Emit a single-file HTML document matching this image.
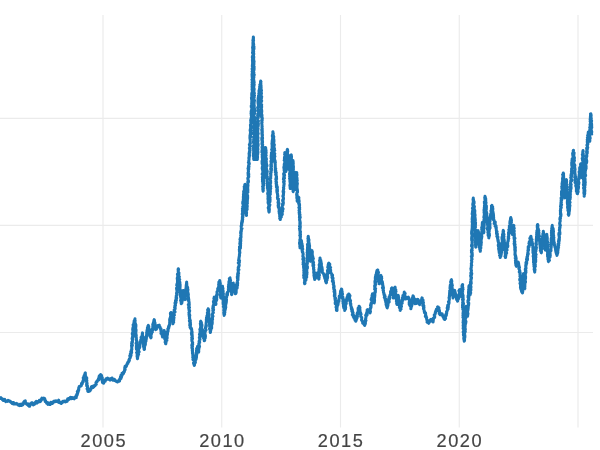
<!DOCTYPE html>
<html><head><meta charset="utf-8"><style>
html,body{margin:0;padding:0;background:#fff;}
body{width:600px;height:450px;overflow:hidden;font-family:"Liberation Sans",sans-serif;}
svg{display:block}
text{font-family:"Liberation Sans",sans-serif;font-size:18.2px;fill:#444;stroke:#444;stroke-width:0.2px;}
</style></head><body>
<svg width="600" height="450" viewBox="0 0 600 450">
<rect width="600" height="450" fill="#fff"/>
<g stroke="#ebebeb" stroke-width="1.15" fill="none">
<line x1="103" y1="15" x2="103" y2="427.5"/>
<line x1="221.75" y1="15" x2="221.75" y2="427.5"/>
<line x1="340.5" y1="15" x2="340.5" y2="427.5"/>
<line x1="459.25" y1="15" x2="459.25" y2="427.5"/>
<line x1="578" y1="15" x2="578" y2="427.5"/>
<line x1="0" y1="118.4" x2="593" y2="118.4"/>
<line x1="0" y1="225.4" x2="593" y2="225.4"/>
<line x1="0" y1="332.5" x2="593" y2="332.5"/>
</g>
<polyline fill="none" stroke="#1f77b4" stroke-width="3.0" stroke-linejoin="round" stroke-linecap="butt" points="-2.0,398.5 -1.7,397.7 -0.8,397.5 -0.5,398.1 0.0,398.3 0.0,398.4 0.5,398.4 1.0,397.7 2.0,398.7 2.4,399.6 2.4,398.7 3.4,400.5 3.8,399.7 4.7,399.3 4.9,400.1 5.0,400.8 5.1,400.1 5.8,401.7 6.1,401.3 7.2,400.9 7.5,401.3 8.1,400.3 8.1,400.4 9.2,400.9 9.8,401.0 9.8,401.6 10.4,401.3 11.2,402.4 11.0,402.4 11.7,402.5 12.1,403.5 12.8,402.5 13.5,402.4 13.3,403.9 13.4,403.6 14.2,403.8 14.2,404.1 15.5,403.9 16.1,403.4 16.4,403.9 16.7,403.7 17.3,403.8 18.0,405.0 18.1,404.6 18.1,404.9 19.2,405.6 19.9,404.4 20.0,405.0 20.4,405.3 20.5,404.9 21.1,404.2 21.5,405.5 22.5,404.9 22.4,404.0 22.9,404.7 22.8,403.4 23.6,403.8 24.1,403.3 23.8,401.9 24.1,402.3 24.5,401.2 25.3,400.9 24.7,401.5 25.1,402.4 25.8,402.4 25.5,403.1 26.3,403.7 26.6,404.1 27.6,404.7 27.5,404.8 28.0,403.9 28.6,405.7 29.0,406.0 28.8,405.5 29.0,406.2 29.7,406.3 29.5,405.1 29.9,404.8 30.3,404.1 30.2,403.9 30.5,403.9 30.7,404.5 31.6,402.7 31.7,402.9 31.8,402.9 32.4,402.8 33.3,404.9 33.3,404.2 33.8,404.6 33.7,403.4 34.3,403.4 35.2,402.9 34.6,404.1 35.5,402.1 35.8,402.5 36.3,401.4 36.8,403.2 37.7,402.4 37.5,401.6 38.3,401.7 38.4,402.0 39.2,401.7 39.4,400.3 40.3,401.6 40.8,400.9 40.8,400.0 41.5,400.2 41.3,399.4 41.9,398.1 41.9,398.3 42.6,398.9 43.7,398.1 43.7,397.9 44.3,399.1 44.7,398.5 44.1,398.6 44.3,399.0 45.0,400.8 45.5,400.4 45.5,401.5 45.2,401.5 45.8,401.7 46.5,402.5 46.8,402.2 46.6,403.2 47.1,403.5 48.2,402.9 48.0,404.4 48.7,403.0 48.5,403.4 49.2,404.3 50.0,404.6 49.6,404.5 51.0,403.9 50.7,403.5 50.9,402.2 52.2,403.3 52.1,403.5 52.5,402.5 52.9,403.0 53.8,401.4 53.6,401.3 54.1,401.7 54.6,401.1 55.0,401.8 55.8,400.8 56.1,400.7 56.9,401.6 57.2,401.7 57.8,400.9 58.3,400.8 58.7,400.2 58.9,400.9 58.8,402.5 59.4,402.2 60.3,402.7 60.3,403.0 60.8,403.3 61.2,403.5 61.1,402.8 61.6,401.9 62.5,402.1 62.7,402.3 63.4,401.4 63.3,401.2 63.9,401.2 64.3,401.5 64.7,401.1 65.2,401.9 65.9,401.8 66.7,400.5 66.7,400.9 67.1,401.4 67.8,399.4 67.4,399.7 67.7,398.9 68.0,399.4 69.1,399.4 69.2,398.3 69.3,398.6 70.3,397.3 71.0,398.8 70.8,398.6 71.4,397.5 72.0,397.4 73.0,398.4 72.5,397.8 73.3,397.9 73.4,398.1 74.2,398.8 74.7,397.6 74.9,397.9 74.6,397.3 75.6,397.3 75.3,397.9 76.4,397.5 76.0,395.8 76.7,395.8 76.5,395.7 76.8,394.2 77.1,395.2 77.6,393.3 77.0,394.2 77.7,393.3 77.3,391.5 78.1,391.7 77.6,392.3 78.3,391.6 77.9,391.2 78.0,390.7 78.6,389.1 78.8,389.9 78.7,387.8 79.1,387.7 79.2,387.5 79.2,386.4 79.5,386.2 80.3,386.1 81.2,385.7 81.3,385.8 81.5,384.8 81.5,383.8 81.5,383.3 82.2,384.0 81.8,383.3 82.8,382.1 82.8,382.3 82.6,382.6 82.7,381.5 83.2,382.0 83.0,381.0 83.3,380.0 83.6,379.7 83.5,378.8 83.2,377.8 83.4,378.6 83.7,376.9 83.6,377.9 84.6,377.1 84.1,375.7 84.3,375.7 84.3,375.2 84.5,375.8 85.4,374.4 84.8,374.7 85.0,373.2 85.3,372.9 85.1,373.2 85.4,373.9 85.2,374.4 85.1,374.4 85.2,375.1 85.3,374.8 85.6,375.8 86.0,376.9 86.3,377.6 86.3,378.6 86.0,377.9 86.8,378.0 86.6,379.6 85.9,380.5 86.9,380.5 86.7,381.2 86.4,381.2 86.7,381.7 86.8,382.6 87.1,383.2 87.0,384.0 87.1,384.1 86.7,383.2 86.6,384.4 86.7,385.9 87.2,386.0 87.4,386.6 87.3,385.7 87.7,387.8 87.4,387.8 87.6,387.4 87.8,388.3 87.1,388.8 87.9,389.2 87.9,391.1 87.7,390.7 87.8,391.3 88.2,391.6 89.0,391.3 89.3,390.1 89.2,390.4 90.0,390.8 90.4,390.0 90.5,388.9 90.1,388.9 90.9,389.4 91.1,388.1 91.2,388.0 91.3,386.8 91.9,386.7 91.7,386.7 92.7,387.4 92.1,386.4 93.5,387.3 93.5,385.7 93.7,387.0 94.2,386.1 95.0,385.8 94.9,385.4 96.0,384.1 96.0,384.5 96.3,384.4 95.8,384.4 96.3,382.1 96.0,382.6 96.8,381.7 96.7,381.4 97.1,381.8 97.5,380.8 97.4,380.7 98.3,379.2 98.7,379.9 98.9,378.6 98.5,378.4 99.5,378.3 99.0,377.5 99.1,376.3 99.2,377.5 99.6,377.3 99.8,375.4 100.3,374.9 100.5,375.7 100.8,374.6 101.2,375.5 101.2,376.3 101.7,376.2 101.6,375.6 101.7,376.9 101.9,377.8 101.5,377.1 102.3,377.7 101.9,378.7 101.9,380.0 102.7,379.5 102.5,380.0 102.5,380.7 102.2,380.7 102.5,382.6 102.9,382.1 103.0,382.9 103.7,383.3 103.6,381.4 103.7,380.9 104.2,380.5 104.4,380.5 105.1,381.4 105.6,380.0 105.6,379.9 105.9,379.1 106.0,378.7 106.7,378.7 107.6,378.1 107.6,379.2 108.5,378.5 108.3,378.7 108.9,379.2 110.0,380.1 110.0,379.6 110.9,378.5 110.5,379.8 111.9,379.2 112.1,378.1 112.5,379.1 112.9,380.2 113.8,380.3 114.4,379.3 114.0,379.3 114.9,380.7 115.8,381.0 115.8,380.8 116.4,381.4 116.7,381.1 116.8,381.6 117.4,382.0 118.4,380.7 118.3,380.7 119.2,381.3 119.5,381.1 119.2,379.6 119.8,380.1 119.8,378.9 120.2,378.0 120.1,378.5 121.0,378.5 121.1,377.6 120.5,376.7 121.5,377.2 121.0,375.3 121.3,376.2 121.5,375.1 121.7,375.0 122.2,375.4 122.0,373.2 122.5,373.6 123.2,372.7 123.6,373.4 123.6,371.9 124.3,371.8 124.2,371.7 124.6,370.8 124.2,371.3 124.4,371.2 124.7,369.1 124.6,369.1 125.2,369.7 124.7,368.0 125.0,368.8 125.0,366.3 125.0,366.6 126.0,366.9 125.8,365.8 126.3,366.4 126.9,364.7 126.4,365.7 127.3,363.4 127.6,363.8 127.6,363.3 128.0,363.3 127.9,362.1 128.1,362.1 129.0,361.1 129.2,360.8 128.8,361.7 129.4,360.4 128.8,360.1 129.3,360.6 129.3,358.9 130.1,358.0 130.0,358.3 130.0,358.2 130.4,356.5 129.8,355.9 130.8,355.8 130.7,356.7 130.3,354.8 131.1,355.1 130.4,354.8 130.6,353.3 130.3,353.9 131.4,353.1 131.5,351.3 130.8,351.7 131.7,352.3 131.2,350.3 131.3,350.3 131.9,349.1 131.8,349.7 131.8,349.1 131.7,348.3 131.8,347.6 131.7,347.1 132.0,346.2 131.6,346.7 131.7,345.0 131.5,345.4 131.8,345.8 132.4,345.4 131.8,342.9 131.6,343.3 132.3,342.7 131.9,342.1 132.3,342.2 132.5,342.0 132.4,339.9 132.7,339.8 132.4,339.5 132.6,338.6 132.1,338.2 132.1,339.1 132.6,337.4 132.4,338.3 132.6,336.1 132.9,336.6 133.2,334.9 132.6,336.0 133.1,335.7 132.2,333.8 132.4,333.0 133.3,333.4 133.3,332.4 133.3,332.1 132.7,332.3 133.5,330.3 133.1,331.0 132.7,329.9 132.7,329.1 132.9,329.4 133.3,328.2 132.8,328.0 133.3,327.3 133.2,326.9 133.3,326.7 133.6,326.3 133.1,324.9 133.5,325.3 133.9,323.8 133.5,324.6 133.8,323.2 133.8,324.2 133.9,322.9 134.1,322.0 134.8,322.8 134.3,320.5 134.8,320.0 134.1,321.1 134.7,320.3 134.8,319.7 135.0,318.7 135.0,318.9 134.8,319.8 135.2,320.8 134.8,320.9 135.0,321.2 134.8,321.2 135.2,323.1 134.8,322.6 135.6,324.2 135.0,322.8 135.8,325.2 135.3,323.6 135.9,324.9 135.9,325.9 135.8,325.4 135.8,326.0 135.4,327.9 135.9,326.9 135.3,327.9 135.6,328.3 135.2,328.5 135.9,330.5 135.2,330.2 136.0,329.5 136.1,330.2 135.9,331.7 136.0,331.6 135.8,332.8 135.8,333.4 135.8,333.4 135.4,334.3 136.0,334.0 136.3,335.7 136.0,334.8 136.0,335.2 135.7,336.4 135.7,336.9 136.2,336.7 136.3,337.3 136.4,338.9 136.2,338.5 136.3,339.4 136.3,340.0 136.6,340.1 136.6,341.6 136.6,342.0 136.2,342.8 136.5,343.4 136.9,342.2 136.8,344.4 136.1,343.6 136.9,343.7 137.1,344.4 137.0,344.7 136.7,346.9 136.4,345.9 136.7,346.5 136.3,346.7 136.4,348.9 137.0,349.3 136.5,349.5 136.5,349.5 137.1,349.6 137.4,350.5 137.1,351.7 136.6,352.5 137.2,351.6 137.4,351.9 137.7,353.0 137.0,353.9 137.1,353.1 137.5,353.4 137.6,354.3 137.4,356.4 137.4,356.2 137.2,355.4 137.0,356.2 137.5,357.2 137.4,358.3 137.3,358.0 137.5,358.8 137.7,357.8 137.3,357.6 137.4,357.1 137.6,357.0 138.0,355.7 138.1,355.7 137.7,356.3 137.9,354.0 137.8,354.6 138.7,354.4 138.3,352.8 137.9,353.1 138.6,352.0 138.8,351.7 139.2,351.8 138.5,351.7 138.4,350.4 138.8,349.2 138.5,349.9 138.6,348.9 139.7,347.5 138.9,348.0 139.4,347.6 139.8,346.1 139.3,345.9 139.1,346.6 139.9,345.7 139.4,345.4 140.0,344.3 140.0,343.7 140.0,343.3 140.0,342.3 140.0,341.6 140.2,342.3 140.7,342.1 140.8,340.3 140.8,340.2 141.2,339.9 140.7,339.7 141.6,338.2 141.6,337.3 141.0,337.3 141.7,338.3 141.8,336.5 142.1,336.0 141.5,336.8 142.0,335.8 142.2,336.0 142.1,335.1 142.4,334.5 142.3,333.7 142.5,332.9 142.6,333.2 142.4,334.0 142.3,335.0 142.4,334.0 142.3,336.2 142.6,335.0 142.3,335.3 143.1,337.1 143.2,337.8 142.5,338.0 142.9,339.0 143.5,339.7 142.7,340.1 143.7,340.8 142.8,339.6 142.9,339.7 143.7,341.9 143.5,342.5 143.6,341.8 143.1,341.8 143.8,342.6 143.4,343.5 143.1,343.7 143.5,345.2 143.6,344.8 144.3,345.7 144.2,346.4 143.4,346.5 143.9,347.7 143.9,348.0 144.1,347.7 144.3,348.1 144.3,348.8 144.2,349.6 144.0,348.8 144.5,349.3 144.0,348.1 144.5,348.2 144.3,347.2 144.5,347.4 144.5,347.2 144.6,345.1 145.2,345.2 144.6,345.0 144.7,344.9 145.4,344.4 145.4,343.0 145.3,342.6 145.9,341.4 146.0,340.8 145.3,340.8 146.1,340.8 145.7,341.2 145.6,339.8 146.0,339.9 146.3,339.2 146.0,338.0 145.8,338.7 146.5,338.0 146.0,336.8 146.7,336.6 146.3,335.9 146.8,335.2 146.7,335.0 146.6,334.2 147.0,334.6 146.6,332.7 146.8,332.6 147.1,331.7 147.0,331.3 147.8,332.0 146.9,332.0 147.0,330.2 148.1,330.6 147.9,329.3 147.4,329.2 147.4,327.8 147.8,326.9 147.9,328.1 148.3,326.9 148.2,326.3 148.0,326.0 148.3,325.4 148.3,326.2 148.8,326.3 148.7,327.4 148.6,326.8 149.0,328.8 149.2,328.9 149.4,329.3 149.3,329.3 149.0,330.2 148.9,330.2 149.7,331.4 149.6,330.8 149.5,331.8 149.8,332.2 150.0,333.9 149.6,333.7 150.3,333.7 150.1,335.5 149.7,335.0 149.9,336.0 150.9,335.9 150.1,336.5 150.6,337.2 150.7,337.6 150.8,337.9 151.1,337.4 150.9,337.5 150.9,336.7 151.1,336.4 150.9,336.4 151.2,334.0 151.2,334.2 151.0,333.8 151.5,333.9 151.6,332.4 151.5,333.0 152.4,332.0 151.7,332.1 152.0,330.3 151.8,331.1 152.6,330.3 152.3,329.6 152.2,330.0 152.4,328.8 153.0,328.7 152.7,327.0 152.9,326.2 153.3,326.2 153.4,325.5 153.0,325.0 153.1,324.3 152.7,325.0 153.1,323.5 153.2,323.5 153.5,323.4 153.8,322.3 154.2,322.8 153.5,322.2 154.2,321.5 153.8,321.0 154.2,319.6 154.2,319.6 154.0,320.7 154.5,320.2 154.0,320.3 154.2,322.2 154.4,321.3 155.1,323.3 154.4,324.0 155.0,324.2 155.1,325.0 155.3,325.4 154.7,325.5 155.2,326.1 155.2,327.0 155.4,326.1 155.1,326.3 155.5,326.6 155.5,327.3 155.6,328.6 155.7,329.6 155.8,329.6 155.6,329.7 156.1,328.8 156.5,329.0 156.4,327.6 157.3,326.3 157.1,327.1 156.6,326.6 157.5,326.6 157.5,325.4 157.7,326.7 158.3,325.8 159.2,325.0 159.4,326.5 159.4,327.3 160.0,326.7 160.0,327.2 160.3,328.1 160.1,328.1 160.4,328.8 161.0,328.7 161.1,329.5 160.8,329.7 161.0,331.7 161.2,331.8 161.0,331.2 161.1,332.3 161.6,333.3 161.0,333.6 162.1,333.7 161.3,333.7 161.4,333.9 162.5,335.4 162.3,336.2 162.6,336.3 162.5,336.8 162.5,337.1 162.8,336.8 162.9,335.6 163.0,335.6 163.3,334.3 162.8,333.7 163.5,335.2 163.5,333.5 163.8,333.9 163.7,332.3 163.5,332.1 163.6,331.7 164.1,332.2 163.8,331.0 164.2,330.4 164.0,330.5 164.5,331.5 164.7,331.8 163.9,332.1 164.6,333.9 165.1,333.3 164.5,333.0 164.8,333.7 164.4,333.8 164.2,335.8 164.4,336.9 164.5,337.2 164.6,335.8 165.3,336.8 165.3,337.1 164.7,339.0 165.4,339.6 165.5,338.4 165.5,340.3 165.3,341.3 165.2,341.9 165.7,340.2 165.1,342.1 165.9,341.6 165.5,343.1 165.6,343.7 165.8,343.8 165.9,342.8 165.8,342.9 166.0,342.6 165.7,342.4 166.0,341.6 166.4,340.6 166.2,340.9 166.9,340.4 166.5,338.8 166.0,339.8 166.8,339.0 166.5,338.0 167.2,338.0 166.9,336.3 166.8,337.1 166.8,336.1 167.1,336.1 167.4,334.2 166.6,333.7 167.1,333.9 167.6,333.9 167.0,333.2 167.6,332.6 167.5,331.7 167.7,330.9 168.1,331.3 168.1,331.1 167.8,328.8 168.2,329.9 167.9,329.3 168.9,327.6 168.7,328.1 168.6,326.6 168.5,327.3 169.2,326.2 168.6,326.5 169.5,324.7 169.4,325.7 169.8,324.3 169.6,323.9 169.7,323.3 169.6,322.4 169.6,322.6 169.7,321.9 169.8,321.4 169.6,319.8 170.6,320.0 169.7,320.1 170.5,318.6 170.3,318.5 170.3,317.3 169.8,319.0 170.8,317.3 170.5,316.3 170.8,316.2 171.1,316.5 171.0,316.4 170.4,313.8 170.4,313.7 170.4,313.0 170.9,314.0 170.9,313.4 171.0,312.4 171.3,312.4 171.2,313.2 170.9,314.8 171.1,314.5 171.6,315.9 171.7,315.1 171.6,315.1 172.2,317.5 171.5,315.8 171.6,317.0 172.4,318.8 172.4,317.3 172.4,319.3 172.4,320.4 171.8,319.0 172.7,321.3 172.7,320.4 172.7,321.9 172.2,321.4 172.5,321.6 172.8,322.3 172.8,322.9 173.0,323.8 173.2,322.8 173.3,322.4 172.8,323.0 173.0,322.6 173.7,322.2 173.0,320.7 173.0,321.3 173.8,320.1 173.5,319.0 173.9,318.8 173.8,317.6 173.4,316.9 174.0,317.5 173.4,317.7 173.6,316.2 173.6,315.4 174.4,315.0 173.7,314.9 173.9,315.3 173.8,315.0 173.7,314.3 174.5,312.3 174.3,311.9 174.1,311.3 174.3,312.6 175.1,311.9 174.1,310.0 175.1,308.9 174.9,309.0 175.2,308.1 175.1,308.2 174.6,307.3 175.1,307.5 175.0,307.0 174.9,306.4 175.5,305.6 175.3,304.8 174.9,305.6 175.6,303.8 175.0,303.0 175.6,303.5 175.3,302.3 175.8,303.0 176.1,302.2 175.5,300.5 176.1,300.8 176.2,299.5 176.3,299.6 176.4,300.3 176.1,297.9 176.7,298.4 176.7,297.5 176.0,298.3 176.3,296.2 176.4,296.7 176.2,296.0 176.6,295.5 176.7,295.0 176.6,294.7 176.9,294.4 176.7,293.8 176.7,293.4 176.5,293.2 177.3,292.0 176.9,291.6 177.0,290.0 177.5,289.9 176.7,289.1 176.8,290.3 176.5,288.1 177.3,287.8 176.6,288.3 177.2,287.6 177.4,286.1 177.6,287.1 176.7,285.2 177.3,285.6 177.1,284.2 177.2,283.7 177.5,284.9 177.0,283.8 177.7,282.3 177.8,283.6 177.4,281.9 177.9,281.7 177.4,282.2 177.9,280.2 177.3,279.7 177.6,280.8 178.0,280.1 178.0,279.5 177.2,278.2 178.3,278.7 177.5,277.0 178.0,276.3 177.9,275.1 177.8,275.7 177.4,274.3 178.5,275.3 178.4,274.5 178.3,274.6 178.5,272.1 178.2,272.1 178.3,271.7 178.2,272.5 178.2,270.7 178.2,270.6 178.5,269.9 178.1,269.9 178.1,269.3 178.3,268.7 178.6,269.2 178.2,269.7 178.5,269.6 178.2,270.0 178.3,271.0 178.3,271.1 178.2,272.3 179.0,273.0 178.8,273.6 178.4,274.2 178.7,274.3 178.9,274.7 178.7,274.6 178.6,275.8 178.8,276.4 178.5,276.4 179.4,276.6 179.1,277.7 178.9,279.4 178.9,279.4 178.8,278.2 179.7,279.6 178.8,280.0 179.3,281.3 179.0,280.6 179.9,282.3 179.1,281.9 179.4,283.2 179.7,284.1 180.0,283.8 179.9,284.9 180.0,284.7 180.0,285.8 180.2,285.0 180.1,285.4 180.1,286.9 179.9,287.9 180.0,287.7 180.0,288.3 180.2,289.2 180.2,289.1 180.1,289.7 180.4,289.9 180.1,290.9 180.1,290.9 180.6,292.6 180.3,292.2 180.0,292.3 180.0,293.5 180.6,292.8 181.0,293.9 180.9,295.6 181.1,294.6 180.5,296.8 180.1,295.2 180.8,296.8 181.2,297.9 180.8,299.0 180.9,298.3 181.1,298.5 180.8,299.5 180.8,300.8 181.2,300.4 180.6,300.5 181.0,301.4 181.2,302.6 181.6,302.3 181.2,303.0 181.5,303.1 181.3,303.8 181.4,303.7 181.2,302.5 181.9,302.9 181.6,301.0 182.1,301.8 182.1,302.0 182.2,300.1 181.5,299.3 182.0,299.3 181.7,298.1 182.3,298.6 182.0,299.0 182.4,296.3 182.2,297.5 182.2,296.8 181.9,295.4 182.9,295.6 182.8,294.2 182.7,294.5 182.5,294.2 182.9,294.5 183.0,292.7 182.6,291.6 183.3,291.2 182.9,290.9 183.2,291.3 183.3,290.4 183.5,291.3 183.1,290.5 183.9,291.5 183.9,292.0 183.4,292.3 183.4,294.3 184.0,293.4 184.0,294.0 183.6,295.7 184.3,296.3 184.2,296.0 184.1,295.1 184.9,297.5 184.3,298.1 185.0,297.2 184.8,299.2 184.8,299.4 184.8,299.0 185.0,299.6 185.2,298.8 185.0,299.1 185.1,298.6 185.0,297.0 185.1,296.4 185.8,296.1 185.4,295.2 185.4,295.3 185.3,294.1 185.1,295.4 185.4,293.5 185.2,293.1 185.3,292.0 185.9,292.2 185.4,292.6 185.3,291.1 186.2,290.2 185.8,291.4 186.3,289.3 185.8,290.1 185.9,290.2 185.7,289.7 186.1,287.5 186.1,286.7 186.4,286.5 186.7,286.8 186.2,285.5 186.5,284.9 186.8,284.2 186.5,284.7 186.3,284.6 186.5,283.9 186.6,282.8 186.6,282.1 186.7,282.1 186.6,283.0 186.7,283.3 186.5,283.7 186.8,284.1 186.8,283.6 186.8,284.5 186.7,286.1 186.9,285.9 187.6,287.3 187.7,288.0 186.9,287.1 186.8,288.6 187.6,288.3 187.4,289.5 187.7,289.1 188.0,289.8 187.8,289.9 187.3,292.1 188.0,292.2 187.3,291.1 187.5,292.0 187.7,292.9 187.5,293.2 188.2,293.4 188.4,294.8 188.3,294.8 188.1,296.0 188.2,295.6 188.3,296.7 188.5,297.5 188.2,297.1 188.6,298.4 188.1,298.3 188.1,299.8 188.2,300.6 188.8,299.3 188.8,300.5 188.9,302.0 188.4,300.8 189.1,302.0 189.2,303.2 189.0,304.0 188.9,303.6 188.3,304.7 188.7,304.8 189.3,304.4 189.2,304.7 189.1,307.0 188.7,306.9 189.5,307.6 189.1,307.2 188.6,307.9 189.0,308.1 188.9,308.4 189.4,310.2 188.9,309.7 189.2,310.6 189.7,310.9 189.1,312.7 188.9,312.4 189.2,313.5 189.4,313.9 189.0,314.2 189.5,314.2 189.8,315.5 189.1,314.9 189.4,315.2 189.2,315.9 189.4,317.1 189.6,316.8 189.6,317.8 189.7,318.3 189.7,318.4 189.4,318.5 190.3,320.3 189.4,320.8 190.4,320.9 189.5,321.3 189.9,321.1 190.1,321.2 190.5,323.1 190.2,324.3 190.3,323.2 189.9,323.5 189.7,325.4 190.6,324.8 190.0,326.1 190.7,327.3 190.0,327.4 190.7,327.7 190.4,327.4 190.5,328.3 191.3,328.2 191.2,329.0 191.7,329.2 191.7,330.0 191.6,329.7 191.8,330.9 192.0,331.5 192.1,332.5 191.8,332.2 191.5,332.3 191.9,332.3 192.1,332.9 191.8,335.3 191.4,333.7 191.8,334.5 192.2,334.6 192.3,337.0 192.3,336.5 191.7,337.6 192.0,337.5 191.8,338.1 192.2,339.4 192.5,338.5 191.8,339.6 192.2,339.9 191.8,339.8 191.9,341.1 192.7,342.6 192.6,343.3 192.7,343.0 192.5,342.2 192.4,343.9 192.0,344.4 192.7,344.7 192.4,344.8 192.1,346.6 191.8,345.5 192.5,346.6 191.9,347.6 192.2,347.9 192.3,348.3 192.5,348.5 192.1,348.6 192.7,349.8 192.2,350.7 192.3,350.2 192.5,351.0 192.5,351.7 192.6,352.2 192.4,352.8 192.4,353.2 192.8,352.8 192.7,353.2 192.8,355.4 193.0,355.6 193.3,354.8 193.6,356.6 192.7,357.3 193.0,356.4 193.7,357.7 193.6,357.3 193.7,357.6 193.1,358.8 192.9,359.7 193.2,359.6 193.8,360.3 194.1,361.3 194.1,361.6 194.2,362.8 193.5,363.0 193.7,363.5 194.1,364.1 193.7,363.7 194.2,365.0 194.3,364.4 194.2,365.4 194.4,364.3 194.5,365.1 194.2,364.8 195.0,362.9 194.6,362.8 195.4,362.6 194.8,360.9 194.9,362.1 195.2,361.1 195.5,360.8 195.8,360.0 195.8,359.1 196.2,359.1 196.1,359.0 196.5,357.1 195.9,356.8 196.2,357.9 196.6,355.5 195.9,356.8 196.5,355.3 196.4,354.3 196.8,354.3 196.9,354.3 196.1,353.2 196.3,354.0 196.8,351.6 196.4,351.8 196.8,351.8 196.8,350.8 196.4,350.8 196.8,349.1 197.0,350.7 196.6,348.4 197.4,348.2 197.0,348.2 197.1,347.8 197.4,347.8 197.7,346.2 197.5,346.2 197.6,347.1 198.1,347.8 197.9,348.0 197.7,347.7 198.3,349.5 198.6,349.5 198.0,350.2 198.6,350.2 198.5,350.3 198.6,350.9 198.3,351.4 198.7,352.1 198.7,352.0 198.8,351.0 198.6,350.3 198.7,349.6 198.5,350.2 198.9,349.0 199.0,348.3 198.7,347.3 198.8,347.2 199.3,347.2 199.6,346.3 199.6,346.3 198.7,344.9 199.3,346.2 199.1,345.2 199.2,344.9 198.8,343.6 199.7,342.6 199.1,341.6 199.0,341.6 199.6,341.0 199.3,340.5 199.6,341.4 199.7,339.5 199.8,340.7 199.7,338.2 200.0,339.5 199.5,337.3 199.3,337.7 200.1,337.5 200.2,336.0 199.6,336.7 200.0,335.4 200.0,334.8 199.4,334.5 199.4,334.4 199.8,333.6 200.1,332.6 200.0,331.6 200.5,332.3 200.6,330.7 200.2,331.7 200.0,329.8 199.8,329.4 200.5,328.7 200.6,329.0 200.3,328.9 200.4,328.5 200.5,327.3 200.7,326.6 200.7,327.3 200.8,325.8 200.8,326.7 200.5,324.8 200.6,325.5 200.3,323.4 200.6,323.9 200.8,323.0 201.0,322.4 200.9,321.7 200.6,321.4 200.8,321.2 200.6,321.7 201.0,321.7 201.4,322.4 200.8,322.5 201.5,324.6 200.9,323.1 201.7,324.1 202.0,325.1 201.7,325.3 201.9,326.0 201.5,327.5 201.3,327.6 201.3,327.9 201.8,328.9 201.5,328.7 202.0,330.0 202.6,329.9 201.9,329.5 202.0,330.4 202.1,330.4 202.7,331.9 202.3,333.2 202.3,332.7 202.3,333.8 203.1,333.1 203.0,334.5 202.8,334.3 203.0,335.0 203.1,336.1 202.9,336.4 203.6,336.4 203.7,337.8 203.5,338.3 203.8,338.6 204.5,337.7 204.6,340.0 204.2,338.4 204.2,340.7 204.7,340.4 204.5,340.3 204.6,339.7 204.5,338.4 205.0,337.7 204.8,338.7 205.2,338.3 205.5,335.9 204.8,337.1 205.3,334.9 205.1,334.8 205.1,334.0 204.7,335.5 205.1,334.8 204.9,333.4 204.9,332.8 205.0,332.9 205.0,332.5 205.5,330.6 205.4,330.9 206.0,330.1 205.3,331.0 206.1,330.0 205.4,328.2 205.5,327.5 205.3,328.0 205.7,327.6 205.7,325.9 206.1,326.8 206.0,326.1 206.2,326.6 206.4,325.5 206.0,324.1 206.1,324.8 206.1,323.3 206.2,322.5 206.5,322.0 206.3,322.0 206.4,322.0 206.3,321.2 206.4,320.1 206.3,319.2 207.0,320.2 207.2,318.0 207.0,318.2 207.0,318.2 206.7,318.6 206.5,317.6 207.5,316.6 207.2,317.2 206.9,315.9 207.6,314.8 207.6,314.4 207.5,314.4 207.7,313.2 207.7,313.2 207.3,312.9 207.4,313.1 207.7,312.2 207.9,311.1 207.6,309.9 208.4,310.2 208.1,309.7 208.3,308.9 208.2,308.7 208.1,309.5 208.3,309.9 208.5,310.7 208.7,310.0 208.3,311.8 208.8,311.0 208.2,311.7 208.1,312.4 208.9,313.2 208.6,312.7 208.6,315.3 208.9,314.6 208.7,315.9 209.1,314.9 209.1,315.9 208.9,316.1 208.8,316.8 208.9,316.6 208.7,318.3 208.6,317.9 209.4,318.6 209.0,319.1 209.6,319.2 209.4,321.5 209.0,321.0 209.7,321.9 209.2,321.1 209.4,322.3 209.7,322.7 209.4,324.0 209.9,323.8 209.5,324.8 210.1,324.4 210.2,326.1 209.6,326.5 209.6,325.7 210.1,326.9 209.9,327.6 210.3,328.7 209.4,328.8 210.0,329.0 210.4,329.5 210.1,330.8 210.1,330.6 210.2,331.5 210.3,331.9 210.2,331.7 210.3,332.6 210.5,332.2 210.6,332.0 210.2,330.6 210.2,331.3 210.2,329.3 211.0,329.8 210.3,329.6 211.1,328.7 210.5,328.7 211.0,327.9 211.7,328.0 211.6,326.0 211.1,326.3 210.8,326.9 211.2,324.8 211.3,324.3 212.0,324.5 211.7,323.7 211.3,322.9 212.2,323.6 212.3,321.9 211.7,321.0 212.1,321.2 212.1,321.0 212.3,320.3 212.3,320.0 212.5,319.2 212.6,319.1 212.1,318.2 212.5,317.9 212.6,317.2 212.3,317.6 212.4,317.0 213.0,316.2 212.6,316.5 212.7,315.9 212.3,314.4 212.9,313.0 213.2,312.5 213.0,312.3 213.4,312.7 213.3,312.0 213.2,311.9 212.8,310.4 213.5,309.7 213.6,309.4 212.7,308.6 213.5,310.1 213.2,308.9 213.0,309.0 213.5,306.8 212.9,307.5 212.9,307.3 213.2,305.4 213.6,305.1 213.6,304.3 214.0,304.2 214.0,303.3 214.0,304.7 213.6,302.0 213.6,302.9 213.5,302.2 213.4,301.5 214.1,300.9 214.1,299.7 214.3,299.3 214.4,300.5 214.4,299.1 213.9,298.4 214.3,298.1 214.4,297.2 214.2,297.1 214.3,298.1 214.5,298.2 214.1,297.8 214.4,300.0 215.1,299.0 215.3,299.0 215.1,301.7 214.9,302.1 215.3,300.6 215.1,302.0 215.1,303.2 215.1,303.8 215.4,302.7 215.7,303.5 215.8,304.6 215.9,304.4 216.0,303.6 215.6,303.1 215.6,302.9 215.7,302.3 216.0,301.4 216.4,300.4 215.9,301.7 216.2,301.0 216.8,299.6 216.1,298.2 216.9,297.8 216.6,298.3 216.2,297.6 216.3,297.3 216.8,296.4 216.5,296.0 216.6,294.9 216.7,296.1 217.0,295.7 216.5,295.3 217.1,294.4 217.3,293.7 217.0,293.3 217.0,291.8 217.0,291.6 217.4,291.1 217.5,290.8 217.8,289.8 217.8,289.4 217.9,289.9 218.2,287.8 217.7,288.6 218.7,286.7 218.4,287.8 218.7,286.5 218.8,286.3 219.0,284.7 219.1,285.1 218.7,283.9 218.6,284.9 219.2,283.0 218.9,282.5 218.8,282.2 219.1,283.5 219.9,282.5 219.5,281.4 219.8,281.4 219.7,280.4 219.9,281.1 219.6,281.6 220.1,282.4 219.5,282.8 219.7,282.2 220.4,283.8 220.2,283.0 220.3,285.4 220.4,285.5 220.4,286.1 220.1,285.7 220.4,287.1 220.5,286.4 220.6,287.5 220.7,287.0 220.7,289.1 220.0,289.7 220.0,288.7 220.3,289.3 220.3,291.4 220.6,291.4 220.3,292.1 220.7,292.3 220.9,293.2 220.4,291.9 220.7,294.2 220.4,294.1 220.9,295.1 220.1,294.9 220.2,294.6 221.0,295.7 220.8,296.3 220.6,296.5 220.7,297.8 220.8,297.9 220.9,297.2 220.6,296.6 221.2,296.3 221.3,296.7 220.7,295.9 220.7,295.7 220.9,294.0 221.9,293.7 221.1,294.4 221.6,293.9 221.5,292.5 222.2,292.1 222.3,290.8 222.2,290.3 221.9,289.4 221.6,291.1 222.0,290.3 221.8,288.8 221.7,288.8 222.6,288.2 222.2,288.5 222.7,287.4 222.2,286.8 222.5,286.2 222.5,287.2 222.5,287.4 222.7,287.5 222.6,288.5 223.0,288.7 222.6,290.1 222.3,290.4 222.9,290.3 222.7,291.3 223.2,291.8 223.1,290.6 222.7,291.4 223.4,293.7 222.5,293.5 223.0,292.7 222.9,294.8 223.2,294.2 223.3,294.8 223.1,295.6 223.6,296.6 223.5,297.2 223.0,298.4 223.4,298.2 223.0,297.5 223.3,299.5 223.6,298.9 222.9,299.8 223.7,299.5 223.6,300.0 223.2,300.3 223.2,301.5 224.0,303.4 223.1,302.4 224.0,302.6 223.3,303.7 223.1,303.8 223.5,304.6 224.1,304.8 223.3,306.8 223.6,307.1 223.9,307.5 223.5,306.5 224.0,307.8 223.9,308.7 224.1,308.3 223.7,310.3 223.9,309.4 224.1,309.8 224.2,309.9 224.3,311.5 223.9,312.7 223.8,311.9 223.7,313.0 224.3,313.6 224.1,314.3 223.9,314.2 224.2,315.3 224.2,315.4 224.3,315.1 224.5,314.3 224.7,314.3 224.3,313.2 224.8,312.6 224.3,313.3 224.7,312.0 224.9,312.4 224.4,310.6 224.4,310.3 224.9,310.8 225.2,309.7 224.9,309.2 224.9,309.3 225.5,308.8 224.9,307.9 225.6,307.0 225.8,307.5 225.7,306.8 225.7,306.4 225.2,305.5 225.9,304.8 225.5,303.1 225.9,304.3 225.6,302.4 225.6,301.7 226.2,303.2 226.4,301.3 226.3,300.1 226.5,300.2 225.7,300.4 225.9,299.1 225.9,299.1 226.5,299.2 226.2,298.7 226.3,297.3 226.7,297.0 226.7,296.7 226.7,296.3 226.6,296.3 226.7,296.0 227.5,294.8 226.7,294.9 226.8,293.7 227.4,292.2 227.7,293.2 227.8,292.0 227.8,291.9 227.6,292.1 228.5,291.4 228.5,289.8 228.5,289.1 228.3,289.2 228.4,288.3 228.4,288.5 228.7,287.6 228.4,286.5 228.6,286.2 228.4,286.8 228.8,285.6 228.6,285.8 228.6,284.2 229.1,284.8 229.6,284.4 229.7,284.3 229.5,283.3 228.9,281.6 228.9,282.7 229.7,281.6 229.3,280.5 229.3,280.7 230.2,279.4 229.3,278.7 229.7,279.5 230.1,278.3 230.0,277.9 229.8,278.0 229.9,279.3 230.1,280.2 230.6,280.4 230.2,281.1 229.9,279.9 230.4,281.4 230.1,281.2 229.9,283.3 230.7,283.9 231.1,283.2 230.9,283.5 231.0,285.1 230.3,283.6 230.4,285.5 230.7,284.6 231.2,286.9 230.9,285.7 231.4,287.3 230.5,287.3 231.2,289.1 231.1,289.0 230.8,288.6 231.6,289.4 230.8,290.4 230.9,290.0 231.3,291.4 231.6,292.1 231.4,291.2 231.7,291.8 231.5,293.0 231.7,293.9 231.5,294.3 231.7,294.6 231.9,294.1 231.6,294.3 232.0,292.3 231.7,293.8 231.7,291.9 232.4,292.4 232.3,291.8 231.7,289.7 232.8,290.9 231.9,288.7 232.1,290.3 232.2,289.2 233.0,288.6 233.1,287.2 232.3,286.2 233.0,285.9 233.4,286.8 232.6,286.5 232.6,285.4 232.6,285.5 233.5,285.2 232.8,284.4 233.3,283.8 233.3,282.9 233.4,283.5 233.6,284.4 233.2,283.4 233.7,284.4 233.6,284.2 234.1,284.7 234.3,287.1 234.0,286.0 234.3,286.7 234.1,286.9 234.8,288.5 234.2,287.9 234.7,290.2 235.0,288.9 234.5,289.9 235.0,290.0 235.0,292.4 235.2,290.7 234.6,291.5 235.3,293.0 235.2,293.2 235.3,293.8 235.4,293.5 235.7,293.7 235.9,293.1 236.2,292.7 236.1,290.3 236.2,291.8 236.0,291.4 235.9,291.1 236.3,290.0 236.2,288.6 236.4,288.2 236.2,288.0 237.2,288.0 237.2,287.6 237.0,286.7 237.2,286.8 237.3,285.4 236.9,285.0 236.7,284.1 237.6,285.2 237.1,284.3 237.6,284.1 237.7,282.8 237.0,283.0 237.2,282.0 237.3,281.3 238.0,279.9 237.6,280.6 237.6,280.7 237.5,280.2 237.9,279.8 237.3,277.5 237.5,278.7 237.3,276.6 238.1,277.9 237.6,276.1 238.2,276.2 238.3,275.8 237.8,274.1 237.6,274.7 237.8,273.2 238.6,273.5 238.3,272.9 238.3,272.4 238.3,271.7 238.2,270.7 238.1,270.0 238.3,269.6 238.1,269.7 239.0,269.6 238.3,269.3 238.2,267.2 238.4,267.4 238.8,267.0 238.9,265.7 239.2,265.8 239.1,264.5 239.1,264.5 239.2,265.3 239.0,263.6 238.3,262.9 239.4,262.3 239.1,262.8 239.2,261.3 238.6,260.6 239.6,260.8 239.3,260.7 238.8,259.0 238.6,260.4 238.8,260.2 239.1,259.1 238.9,258.7 239.1,257.2 239.4,256.2 239.2,257.0 239.3,255.8 239.6,255.2 239.5,255.0 239.4,254.2 239.5,253.8 239.7,253.5 239.9,252.2 239.8,253.2 239.4,250.9 239.7,250.6 239.7,251.5 239.3,249.6 239.8,249.2 239.6,249.4 239.5,247.9 239.8,248.4 240.4,248.1 239.5,246.8 240.3,247.2 240.5,247.6 240.5,245.0 240.6,245.6 239.9,244.2 240.6,243.8 239.8,243.4 240.7,243.4 240.5,241.9 240.3,242.1 240.0,242.4 240.2,240.6 240.9,241.0 240.1,239.3 240.6,240.0 240.0,239.4 240.8,239.1 240.3,238.5 240.7,238.4 240.3,238.1 241.0,237.4 241.0,236.3 241.0,235.6 240.6,235.6 240.8,235.0 241.1,234.0 240.7,233.3 240.9,232.9 240.7,233.5 241.1,233.6 241.0,232.5 240.6,232.7 240.9,231.0 241.3,231.7 241.3,231.3 241.5,228.9 241.8,228.4 242.0,228.5 241.2,229.3 241.4,227.4 241.4,227.6 241.1,226.3 241.3,227.0 241.2,225.9 241.5,225.1 241.9,225.2 241.5,223.5 241.5,224.9 241.6,222.3 242.1,222.9 242.5,221.1 241.9,220.9 242.3,221.1 242.2,221.7 242.4,221.0 242.7,219.4 242.7,219.1 242.2,219.3 242.5,218.3 242.3,217.2 242.4,217.0 242.9,217.5 242.5,216.4 242.9,216.5 242.8,215.4 242.2,214.2 242.8,214.6 243.0,214.9 243.2,212.6 242.3,213.9 242.8,211.6 243.0,211.2 242.5,211.0 242.9,211.3 242.4,211.0 243.0,209.8 243.1,210.2 242.4,208.8 243.1,208.9 243.1,207.1 243.5,208.1 242.7,206.7 243.5,205.7 242.9,207.1 243.5,204.8 243.3,204.6 243.3,205.1 242.7,203.2 242.8,202.9 242.7,202.0 243.1,202.3 242.8,202.1 243.6,201.6 243.2,201.3 243.2,200.1 243.3,200.0 243.3,198.9 243.5,198.5 243.4,199.4 243.8,198.7 243.7,197.8 243.9,198.2 243.3,197.2 243.5,195.3 244.1,195.7 244.2,195.9 244.0,193.7 243.4,194.1 244.3,192.9 243.6,191.7 243.8,193.0 243.6,191.2 244.0,192.0 244.8,189.7 243.9,191.6 244.9,189.0 244.3,189.5 244.3,188.7 244.5,187.8 244.1,186.8 244.3,186.4 244.9,187.4 244.6,187.1 245.0,185.6 244.9,184.9 245.2,185.0 245.0,184.4 244.8,184.5 245.1,185.3 245.2,185.5 245.3,186.9 244.8,187.1 244.9,187.8 245.4,188.5 244.9,187.5 245.4,189.1 244.8,188.6 245.3,188.9 245.4,189.7 245.0,190.7 245.3,192.0 244.8,192.5 245.0,191.9 245.5,193.4 245.5,194.4 245.1,193.4 245.6,193.8 245.1,194.2 245.8,196.2 245.7,197.1 245.8,195.9 245.3,197.5 245.1,197.7 245.1,196.7 245.6,197.5 246.1,199.9 245.6,198.6 245.2,199.9 245.7,200.0 245.9,201.0 246.0,200.4 245.3,201.6 245.7,201.8 246.0,202.2 245.6,203.3 246.1,204.6 245.7,204.3 246.3,206.0 246.0,204.4 245.9,206.3 245.7,205.2 246.5,207.9 245.6,207.3 246.1,207.4 245.5,209.0 246.3,208.7 245.6,209.1 245.6,211.1 245.6,209.9 246.4,210.0 245.8,210.5 245.9,212.0 246.4,211.8 246.0,213.4 246.2,213.1 246.0,213.5 246.5,213.9 246.2,215.2 246.3,215.4 246.5,215.3 246.3,215.0 246.4,213.6 246.4,213.7 246.6,212.3 246.2,213.3 246.1,212.6 246.3,210.8 246.3,210.8 247.1,209.5 247.0,209.5 246.2,210.0 246.5,208.1 246.6,209.2 247.1,208.1 246.2,208.1 246.8,208.0 247.3,206.0 247.2,206.7 246.6,205.1 246.7,204.6 246.7,203.4 246.6,205.0 246.8,203.8 247.4,203.6 246.7,203.5 247.3,203.2 247.3,202.1 247.4,200.3 247.2,200.1 247.5,199.0 247.2,199.0 247.5,198.6 247.5,199.4 247.6,197.0 247.7,198.1 247.4,197.4 246.8,197.4 247.3,195.9 247.1,196.2 247.7,195.9 247.1,194.1 247.1,192.9 247.2,192.2 247.8,192.3 247.0,191.4 247.8,191.2 247.5,191.2 247.9,192.2 247.4,190.8 248.0,189.9 248.0,190.0 247.5,189.7 247.7,187.8 247.8,188.5 247.7,187.5 247.7,187.5 247.9,186.2 247.8,186.0 247.8,185.3 248.1,185.3 247.6,185.1 247.6,184.2 247.9,183.9 247.9,182.1 248.0,183.2 248.3,181.6 247.7,182.1 248.4,180.3 248.5,181.8 248.0,179.7 248.3,180.6 247.8,178.5 248.0,179.1 247.8,178.1 248.2,177.9 247.8,178.2 248.8,176.7 248.6,175.2 248.7,175.6 248.6,176.0 248.2,175.6 248.0,172.7 248.4,174.6 248.8,174.2 248.4,173.6 248.5,171.1 248.6,172.3 248.4,171.3 248.3,169.9 248.5,170.0 248.5,168.4 248.0,168.6 248.8,169.2 248.3,167.4 248.7,166.6 248.8,168.1 248.4,166.7 249.0,166.7 249.0,166.1 248.5,165.9 249.3,163.3 249.3,163.9 248.4,162.5 249.1,163.4 248.6,162.4 249.0,162.9 248.8,161.9 248.8,160.6 248.8,160.4 249.0,160.0 249.1,159.3 248.9,158.6 248.8,157.9 249.0,158.0 248.9,157.5 249.1,158.2 249.2,157.7 249.2,155.2 249.4,154.5 249.0,153.9 249.6,155.8 249.3,153.6 249.3,153.1 249.7,152.7 249.1,153.5 249.6,150.7 249.9,152.1 249.4,151.4 250.1,150.2 249.6,149.5 249.7,149.9 250.0,150.2 249.3,148.1 250.1,148.8 249.9,148.0 249.6,148.2 249.9,146.2 249.5,145.0 250.4,146.3 249.4,144.5 250.0,144.5 249.9,145.0 249.9,143.6 250.4,143.3 250.1,142.2 250.1,142.2 250.3,141.2 250.2,141.0 250.2,140.4 250.2,140.6 250.3,139.1 250.2,139.6 250.0,138.9 249.9,137.3 249.9,138.3 250.0,136.3 249.9,135.9 250.7,136.6 250.9,136.7 250.5,136.2 250.0,135.7 250.4,133.2 250.8,134.5 250.4,131.9 251.0,133.2 250.7,133.3 250.1,130.3 250.2,129.7 250.9,130.9 250.3,129.1 250.3,129.8 250.9,130.3 250.6,129.8 250.7,127.7 250.5,126.8 251.3,128.4 251.1,125.6 250.5,125.0 250.7,126.2 250.4,125.1 251.1,123.2 250.9,124.8 251.0,123.4 251.4,123.3 250.8,122.2 251.5,123.0 251.5,121.7 250.7,120.2 251.0,120.9 250.7,120.6 251.3,119.5 250.9,119.4 251.1,118.7 251.2,118.0 251.3,117.8 251.2,117.6 251.5,117.2 251.4,115.7 251.2,115.0 251.7,115.6 251.6,115.3 251.8,114.5 251.2,114.2 251.1,113.3 251.0,113.5 251.4,111.4 251.9,110.3 251.9,111.7 251.1,111.2 251.6,111.1 251.6,109.3 252.0,107.8 251.8,107.4 251.3,106.9 252.0,107.3 251.8,106.3 251.9,106.9 251.2,106.0 251.9,104.7 251.8,104.4 251.5,105.7 252.2,105.4 251.6,103.7 252.1,103.7 251.7,103.5 251.7,103.3 251.8,100.4 252.1,100.0 252.0,99.2 252.4,100.1 252.1,98.5 252.0,98.7 251.6,99.4 251.4,97.9 251.5,98.5 252.4,95.7 251.9,96.4 252.2,96.6 251.8,96.7 251.7,94.0 252.4,93.4 251.7,94.0 251.9,92.7 252.5,92.9 252.3,92.0 252.4,91.5 252.4,91.7 252.4,91.4 252.2,90.5 252.2,90.0 252.4,89.4 252.0,89.5 252.4,88.7 252.4,87.6 252.2,88.0 252.6,87.7 252.0,86.8 252.3,85.8 252.0,84.8 252.3,85.0 252.1,84.2 252.4,84.6 252.4,82.7 252.7,82.7 252.8,83.7 252.0,82.2 252.9,81.2 252.4,80.4 251.9,79.6 252.0,79.4 252.6,79.7 252.9,79.5 252.3,79.8 252.6,78.1 252.9,78.0 252.3,77.3 252.3,77.8 252.2,77.3 252.0,74.1 252.6,74.1 252.5,73.4 252.9,74.5 252.7,74.7 253.1,73.5 252.8,71.0 252.1,71.8 253.1,70.9 252.7,69.5 252.5,71.6 252.7,70.9 252.1,68.6 252.3,69.9 252.2,69.7 252.4,69.1 252.7,66.9 253.2,66.7 252.9,65.2 253.1,67.4 252.3,66.2 252.5,63.9 252.6,64.9 253.2,65.4 253.3,63.8 252.9,62.0 253.0,62.6 252.6,63.1 252.5,60.4 252.4,59.9 252.9,61.3 252.4,60.0 252.9,59.6 252.7,59.1 252.3,57.1 252.8,57.2 253.2,56.7 253.2,56.2 252.4,56.4 252.8,55.5 253.2,54.6 253.1,55.9 252.9,54.4 253.4,54.2 252.6,52.2 252.5,52.4 252.5,52.9 252.9,51.4 253.0,52.7 252.7,49.9 252.8,49.9 253.5,50.5 253.0,48.4 252.6,47.8 253.4,48.9 252.7,48.3 252.6,47.4 252.9,45.7 253.4,47.1 253.1,44.9 253.3,45.2 253.3,43.8 253.5,43.1 252.9,43.6 252.9,42.4 253.3,44.1 253.0,41.9 253.3,41.3 253.1,41.8 253.2,40.2 252.9,40.5 253.6,40.6 253.0,39.4 253.3,38.4 253.4,38.4 253.4,37.6 253.5,37.8 253.3,36.9 253.3,37.0 253.3,37.4 253.4,38.7 253.4,39.6 253.1,39.8 253.5,39.2 253.2,39.6 253.4,41.3 253.2,41.8 253.3,42.4 253.2,43.5 253.3,41.7 253.0,44.0 253.7,44.3 253.1,45.4 253.6,43.8 253.3,45.9 252.9,44.6 253.3,47.5 254.0,46.4 253.9,48.3 253.8,48.2 254.0,48.8 254.0,49.1 253.1,49.5 253.5,49.4 253.3,50.5 253.6,50.1 253.2,51.4 253.5,51.7 253.7,51.5 253.5,52.3 253.8,54.0 253.8,54.0 253.3,55.7 253.5,54.6 253.3,55.1 253.8,56.9 253.5,57.1 253.2,56.8 253.4,56.9 253.4,58.7 253.8,57.6 253.3,59.8 253.8,60.0 253.8,60.5 253.4,59.2 253.5,59.6 254.1,61.5 253.8,63.3 254.0,61.7 253.5,61.8 254.0,64.1 253.6,63.6 253.4,64.4 253.9,66.1 254.1,66.5 253.6,65.7 253.5,67.8 253.3,66.0 253.5,68.7 254.1,67.5 254.1,69.6 253.6,68.1 254.0,69.1 253.3,71.1 253.7,70.2 253.9,70.3 253.2,71.1 253.6,70.6 253.6,73.2 253.6,73.5 253.9,72.6 253.3,74.5 253.9,73.9 253.5,76.0 254.3,74.7 253.9,76.2 253.6,75.1 253.6,77.4 253.9,77.5 253.4,77.2 253.6,78.2 253.7,80.1 253.4,80.9 253.6,81.0 253.6,80.7 253.7,79.7 254.2,82.4 253.7,82.7 253.9,83.8 253.5,82.7 253.7,83.8 254.2,84.8 254.0,84.2 254.2,84.2 253.8,86.0 253.9,86.9 253.7,86.4 253.8,86.2 253.7,86.9 253.9,87.9 254.0,88.2 254.1,89.0 254.2,89.1 254.0,90.0 254.0,90.5 253.9,91.5 253.8,92.1 253.9,91.7 254.1,92.6 253.9,92.2 254.4,93.2 253.7,94.4 254.1,94.1 253.9,95.9 253.9,95.3 254.5,95.6 253.9,95.5 254.2,97.5 254.0,97.2 253.8,98.8 254.0,99.4 253.9,99.7 253.5,98.7 254.6,100.5 254.3,100.5 254.0,100.1 253.7,101.9 254.3,101.3 254.2,101.5 254.2,102.1 254.1,103.0 254.1,103.0 254.1,104.8 253.7,104.5 254.3,105.6 254.2,106.8 254.2,105.7 254.0,107.9 254.2,108.2 254.0,107.9 254.6,109.4 254.3,107.9 254.2,108.2 254.6,111.3 254.4,109.8 254.5,110.1 254.5,111.6 253.6,113.1 254.1,113.4 254.3,113.1 254.5,112.7 254.6,113.6 253.6,114.0 253.7,113.8 254.3,114.4 253.8,115.4 253.9,117.7 254.6,118.0 254.7,117.3 254.5,117.4 254.6,119.4 254.4,118.2 253.7,120.6 254.2,120.3 254.5,119.6 254.4,120.9 254.4,121.4 254.0,122.9 254.0,122.9 254.4,122.6 254.3,123.3 254.1,123.6 254.4,124.4 254.2,125.0 254.2,125.5 253.9,126.3 254.3,127.1 254.1,126.5 254.1,127.9 254.3,127.8 254.2,127.8 254.5,128.9 254.1,130.2 253.8,130.6 254.0,131.4 253.7,130.4 254.3,131.5 254.0,132.2 253.8,132.3 253.5,133.8 253.8,134.4 254.1,134.3 254.2,133.5 254.4,134.5 254.4,136.3 254.2,136.9 254.0,137.0 254.5,136.2 253.6,137.3 254.0,137.1 253.7,139.5 253.9,138.1 253.6,139.8 253.6,140.0 254.0,140.4 254.0,142.0 253.4,142.7 253.6,140.8 254.2,142.7 254.0,142.3 254.2,143.0 254.2,143.3 254.0,145.0 253.8,145.0 253.4,145.9 254.1,145.1 253.9,147.2 253.4,148.0 254.3,146.3 253.6,146.9 253.6,147.4 253.8,148.4 253.6,149.5 253.7,150.9 254.1,149.5 253.5,149.7 253.6,150.5 254.0,152.8 254.3,151.8 253.3,153.8 253.7,154.7 253.7,153.6 253.3,155.7 253.8,154.9 253.7,156.2 254.0,156.0 253.5,156.4 254.0,156.9 253.8,157.7 253.7,158.2 253.6,158.7 253.9,158.6 253.7,159.6 253.7,159.5 254.0,157.9 253.9,158.3 254.0,157.5 253.5,156.7 254.0,157.1 253.6,156.4 254.0,156.0 253.4,154.9 253.7,154.8 253.8,153.1 254.2,153.0 254.3,152.6 254.1,153.4 253.6,152.7 253.6,152.7 253.6,151.7 254.0,149.7 254.0,150.1 254.1,148.5 254.2,148.5 254.7,148.2 254.1,147.3 254.8,147.1 254.4,147.9 254.2,147.2 254.1,145.0 253.8,145.4 254.8,144.2 254.3,145.3 254.1,143.1 254.4,143.3 254.9,144.1 254.2,142.7 254.4,140.8 254.4,142.7 254.3,141.3 254.8,139.3 255.0,139.0 254.4,140.1 254.1,138.7 254.3,138.4 254.2,137.2 254.5,136.6 254.4,136.4 254.7,135.9 254.9,135.9 254.7,135.2 254.8,135.0 255.0,133.9 255.0,133.3 255.3,133.3 255.0,133.9 254.5,131.3 255.2,132.2 255.3,130.9 255.1,130.1 255.0,129.9 255.2,129.4 254.9,129.8 254.8,129.8 255.2,127.7 254.9,128.0 255.3,128.0 255.2,126.7 255.8,125.8 256.0,127.0 256.0,126.7 255.2,125.8 255.7,123.6 256.1,124.3 255.9,123.5 255.3,123.6 255.5,122.1 255.7,121.9 255.7,122.1 255.7,123.2 255.5,123.6 255.4,123.9 255.8,124.7 255.3,124.3 256.0,125.2 255.6,125.7 255.9,127.0 255.8,126.7 255.7,127.5 255.3,129.1 256.2,129.2 256.2,128.8 256.0,128.7 255.9,130.5 256.1,131.4 256.1,130.3 256.0,131.4 255.4,131.6 256.0,133.4 256.0,133.4 255.3,132.5 255.7,133.2 255.5,133.4 255.3,135.6 255.3,136.4 255.4,136.9 255.4,135.8 255.5,135.6 255.5,137.2 255.1,139.0 255.5,137.1 256.1,138.2 255.3,138.2 255.2,140.6 255.7,140.5 255.3,140.4 256.1,141.2 256.1,143.1 255.2,143.5 255.1,143.6 255.9,144.0 255.6,144.9 255.2,144.6 255.3,144.7 255.2,146.1 255.7,146.8 255.7,146.8 256.0,147.9 255.6,147.1 256.0,147.7 255.1,148.1 255.8,150.2 255.7,150.0 256.0,150.8 255.5,150.4 255.8,150.6 255.1,151.9 255.9,151.4 255.7,153.6 255.1,152.1 255.5,153.1 256.0,155.3 255.5,155.3 255.6,154.3 255.9,154.9 255.2,156.0 255.2,156.5 255.5,157.8 255.5,158.1 255.7,158.2 255.4,158.4 255.5,159.0 255.5,159.6 255.6,159.1 255.4,158.7 255.8,157.7 255.5,156.8 255.3,156.3 255.5,157.2 255.8,157.0 255.9,155.8 255.7,154.0 255.6,154.0 255.8,153.0 255.7,153.2 255.7,152.8 255.3,153.2 256.1,152.3 255.3,151.8 256.2,152.4 256.1,149.3 256.2,150.5 255.6,150.7 256.2,150.1 255.6,148.7 255.8,147.5 256.2,147.8 255.7,147.1 256.4,146.7 256.4,146.2 256.5,144.2 255.9,145.2 256.2,145.8 256.2,144.0 256.2,143.6 256.3,144.2 255.5,142.0 256.5,140.8 256.4,140.2 256.3,141.8 255.8,140.2 255.8,140.5 256.2,139.8 256.0,139.2 256.7,139.2 256.7,137.3 256.3,137.2 256.1,137.8 255.9,136.6 256.6,137.2 255.8,134.8 256.3,136.2 256.0,135.4 256.2,134.1 256.8,132.3 256.2,132.0 256.0,131.9 256.6,132.2 256.0,132.3 256.5,130.0 256.8,131.3 256.2,131.1 256.8,128.7 256.0,129.9 256.9,127.4 256.8,128.6 256.7,128.2 257.0,126.6 256.9,127.2 256.5,126.2 256.8,126.0 256.7,124.6 256.5,124.5 256.5,124.3 256.7,123.4 256.9,123.6 256.8,124.6 256.5,125.3 256.9,125.1 256.5,125.5 257.0,126.4 257.0,126.2 256.4,127.1 257.1,127.1 256.4,129.1 256.4,129.4 256.3,128.7 257.0,131.0 256.7,130.3 256.3,130.5 256.5,132.2 257.1,132.7 256.9,133.0 256.4,132.6 256.6,132.9 257.1,133.2 256.7,133.9 257.3,135.3 256.9,135.1 257.4,137.2 256.9,136.7 257.3,136.3 256.7,136.4 256.9,138.7 256.6,138.3 257.5,138.9 256.8,140.4 257.4,139.7 256.6,140.9 257.3,142.1 257.2,141.0 257.0,141.4 257.0,142.4 257.5,144.1 257.5,143.5 257.6,143.0 257.5,144.9 257.5,144.8 257.6,144.2 257.5,146.9 256.9,147.4 256.8,147.7 257.1,147.3 256.8,148.8 257.4,147.4 257.7,148.3 257.0,149.3 257.2,151.1 257.6,150.9 257.0,150.0 256.7,151.6 257.3,151.9 257.7,152.3 257.0,152.8 256.8,154.7 257.3,154.2 257.1,154.0 257.1,155.1 257.2,156.6 257.3,155.5 256.9,156.0 257.2,157.6 257.5,157.2 257.4,158.0 257.3,158.6 257.1,158.6 257.3,159.6 257.4,159.3 257.3,159.1 257.5,157.8 257.0,157.7 257.5,156.6 257.0,156.6 256.9,156.6 257.5,155.1 257.3,154.4 257.1,153.7 257.8,154.0 257.7,153.2 257.8,153.3 257.6,152.3 257.5,151.2 258.0,152.0 257.5,151.4 257.0,150.1 257.2,151.0 257.0,149.4 257.9,149.8 257.8,148.0 257.2,148.6 257.3,148.2 257.4,147.8 257.6,147.4 258.1,145.7 258.1,144.2 258.0,143.8 257.7,144.2 257.9,143.5 257.3,144.3 257.7,143.7 257.6,141.3 258.0,141.3 257.6,140.2 257.4,141.5 258.0,140.9 257.6,140.7 257.9,138.7 257.8,139.3 258.0,137.7 257.5,137.6 257.3,137.1 258.0,137.2 257.4,137.2 257.4,136.7 257.4,134.4 257.5,135.1 257.6,135.5 258.2,133.5 258.1,134.0 257.9,132.5 258.2,133.4 257.5,131.7 257.8,131.0 257.8,131.5 257.7,130.9 257.9,130.0 257.8,128.9 258.1,128.7 257.7,127.9 257.8,127.3 257.7,127.0 258.0,126.9 257.8,126.6 258.2,126.6 257.8,126.6 258.3,125.2 257.9,124.0 257.6,125.1 258.1,122.4 258.4,124.1 257.5,123.1 257.7,122.1 258.4,121.1 258.0,121.5 257.7,120.9 257.9,121.3 257.7,120.1 257.5,118.4 257.6,117.5 258.1,117.1 258.4,116.4 258.2,118.0 257.6,115.7 258.3,115.9 258.5,115.0 257.9,116.3 257.9,115.8 258.5,113.2 258.1,114.7 257.7,114.0 258.4,113.2 258.2,110.9 258.6,110.4 258.4,111.6 257.9,111.0 258.0,110.7 257.6,110.7 258.0,109.8 258.1,109.4 257.9,108.1 257.6,107.5 257.7,108.0 258.3,106.3 258.7,107.2 258.6,104.4 258.4,105.5 258.3,103.4 258.5,103.9 258.2,104.1 258.0,102.3 258.4,102.2 258.0,101.6 258.2,101.5 258.5,101.3 258.1,100.0 258.7,100.3 258.5,98.8 258.4,100.1 258.1,98.3 258.1,99.5 258.2,98.9 259.1,97.7 258.3,97.1 258.8,96.1 258.5,95.6 259.3,94.1 259.4,94.4 258.8,93.4 259.1,94.1 259.3,94.3 259.3,92.7 259.9,91.4 258.9,91.2 259.2,90.1 259.4,89.4 260.0,90.2 260.0,90.3 259.9,90.0 259.5,89.4 259.5,88.4 260.0,88.6 259.6,86.8 260.3,87.7 260.6,85.2 259.8,84.7 260.4,86.0 260.4,85.6 260.3,84.5 260.8,84.2 260.5,83.6 260.5,83.4 260.6,81.7 260.5,81.8 260.6,81.5 260.7,80.9 260.7,81.3 260.7,81.7 261.0,81.8 260.5,83.2 260.7,83.3 260.9,83.7 260.6,83.5 261.1,85.8 260.7,85.3 260.7,84.9 261.2,87.2 260.6,86.3 261.1,88.2 260.9,87.6 260.6,89.3 261.3,89.9 260.5,89.7 261.5,90.5 260.9,89.4 260.5,91.6 260.5,92.3 261.2,91.8 261.5,93.7 261.2,91.8 261.2,93.2 260.8,95.1 261.4,93.4 260.8,94.5 261.2,94.9 261.1,96.8 260.8,97.1 261.0,98.2 261.7,96.9 261.3,96.8 261.1,98.8 261.4,98.5 260.7,98.4 261.3,99.0 261.1,100.8 261.7,101.0 261.0,101.7 261.1,102.7 261.0,101.8 261.3,104.1 261.0,102.6 261.0,103.1 261.2,104.2 261.7,104.7 261.4,105.2 261.7,107.1 261.4,107.6 261.2,108.3 261.5,108.0 261.4,107.3 261.1,109.5 261.4,109.5 261.5,109.5 261.2,109.1 261.4,111.0 261.6,109.6 261.8,111.3 261.1,111.3 261.3,113.4 261.7,112.5 261.4,112.9 261.4,113.5 262.0,115.3 261.9,116.1 261.9,114.4 261.2,115.0 261.5,116.6 262.1,117.2 261.7,116.8 262.3,118.7 261.6,117.3 262.3,118.4 262.2,118.6 262.0,119.7 262.2,120.1 261.6,120.4 262.1,122.4 262.0,122.3 261.8,122.1 261.7,123.7 261.7,123.6 261.9,123.6 262.0,125.0 262.0,125.0 261.9,125.1 262.1,126.2 262.0,126.1 262.2,126.5 261.9,127.1 262.1,128.0 262.1,128.9 262.3,129.0 261.8,130.1 261.7,129.7 261.8,130.7 262.3,130.3 261.9,132.2 262.3,131.2 262.3,133.2 262.0,132.2 262.3,133.1 261.8,133.2 262.0,133.6 262.0,135.1 262.2,135.3 262.5,134.9 262.0,137.7 262.6,138.2 262.5,137.6 262.5,138.2 261.8,137.9 261.8,140.0 262.0,139.3 262.3,138.9 262.5,141.3 262.6,142.1 262.0,140.6 262.5,142.6 262.1,142.1 261.9,143.9 262.2,144.4 262.1,143.5 262.3,145.2 262.7,144.6 262.5,145.3 262.7,146.7 262.4,146.2 262.1,148.1 262.7,147.0 261.9,147.2 262.9,147.3 262.7,149.1 262.4,149.6 262.3,150.2 261.9,151.7 262.0,150.1 262.6,151.9 262.7,152.6 262.9,151.3 261.9,152.3 262.7,152.6 262.5,154.8 262.1,154.6 262.9,155.7 262.3,155.5 262.2,157.3 262.8,157.0 262.3,157.7 262.5,158.3 262.4,159.1 262.7,158.4 262.6,159.9 262.6,160.8 262.0,161.1 262.8,160.5 262.9,160.1 262.4,162.1 262.9,161.7 263.1,163.0 262.1,162.1 262.1,163.7 262.4,163.4 262.5,163.4 263.1,166.0 262.7,165.4 262.4,166.3 262.5,167.8 263.1,167.7 263.0,166.4 262.2,167.7 262.2,168.4 263.2,170.0 263.2,168.8 262.4,168.8 262.4,169.4 262.7,170.5 262.9,171.7 262.8,171.5 263.0,173.1 263.0,173.0 262.7,173.0 262.2,174.0 262.9,173.7 263.2,176.1 263.2,176.4 262.8,175.2 262.5,177.2 263.3,176.1 262.3,177.2 262.6,178.3 262.4,179.5 262.6,180.2 262.6,179.1 262.5,181.3 262.9,181.4 262.4,181.2 263.1,182.7 263.3,181.2 262.8,183.7 262.9,184.1 262.7,182.6 263.3,183.6 263.0,184.3 263.0,185.9 263.3,186.3 262.7,186.6 262.6,186.5 263.2,186.7 262.9,187.7 262.8,188.4 263.0,188.1 263.2,188.6 263.1,189.4 262.8,189.6 263.2,190.9 263.0,191.1 263.0,190.9 263.3,190.6 263.1,189.3 263.1,189.8 263.3,188.9 263.4,188.0 263.2,188.2 263.0,187.8 262.9,186.7 263.4,185.4 263.7,185.5 263.0,184.9 263.5,184.5 262.9,183.1 263.7,182.7 263.2,184.0 263.9,183.7 263.2,180.9 263.8,181.9 263.4,179.9 263.5,180.0 263.7,181.4 263.3,178.6 263.9,178.2 263.4,178.5 264.3,177.7 263.6,177.6 263.4,176.9 264.0,176.2 264.2,175.4 263.4,176.0 263.9,176.3 263.5,175.4 264.2,173.9 263.6,174.0 264.3,173.2 264.0,173.2 264.2,172.0 263.8,171.6 264.2,172.3 264.7,170.9 264.0,169.5 264.4,170.4 264.0,169.8 264.8,168.5 264.8,168.1 264.5,168.7 264.0,166.9 264.9,165.6 264.2,166.2 264.7,166.1 265.0,165.7 264.0,163.6 264.0,164.1 264.0,163.9 264.7,162.5 265.0,162.6 265.2,161.9 264.8,161.9 264.4,162.1 264.2,160.1 264.6,161.3 264.8,158.6 264.6,159.6 265.2,157.8 265.2,158.0 264.9,157.6 264.9,158.6 265.4,158.0 265.2,156.9 264.6,154.6 265.4,155.8 265.2,154.3 264.9,155.5 265.2,152.7 265.0,153.0 264.8,154.0 265.6,153.0 264.8,151.7 265.0,151.8 265.5,151.4 265.5,149.7 265.0,149.2 265.6,149.9 265.4,148.5 265.6,147.9 265.4,147.4 265.5,147.4 265.7,147.8 265.7,148.8 265.6,149.6 265.8,150.1 265.9,149.2 265.8,149.9 265.5,150.6 266.1,150.5 265.7,151.1 266.2,152.4 266.0,153.0 266.1,153.0 265.8,154.6 266.1,155.5 265.7,155.9 266.2,155.6 265.9,156.1 265.5,155.3 265.8,155.9 265.5,158.0 266.3,158.2 265.8,159.0 266.5,159.2 265.8,159.6 266.1,159.3 265.8,161.4 266.4,162.1 265.9,160.8 266.3,160.8 266.1,162.5 266.3,164.0 266.4,163.8 266.5,164.7 266.3,163.1 267.0,165.7 266.0,164.4 266.2,166.4 266.1,165.2 266.5,165.6 266.3,167.1 266.3,166.6 266.4,167.8 266.5,168.7 266.5,169.0 266.2,170.9 267.0,170.4 266.2,170.3 267.2,171.4 266.5,172.8 267.3,171.5 266.9,173.1 266.5,173.0 267.0,174.4 267.1,174.8 266.8,173.8 266.5,176.4 267.4,177.0 266.6,177.2 266.7,176.6 266.8,178.4 267.5,178.9 267.0,179.6 266.9,179.2 267.4,178.8 267.1,179.1 267.5,179.8 267.0,180.5 267.4,181.8 267.4,182.6 267.5,182.0 267.4,182.5 267.3,183.0 267.2,183.8 267.6,184.7 267.5,185.0 267.3,185.2 267.6,186.0 267.3,185.9 267.7,187.2 267.3,188.0 267.4,188.2 267.7,188.2 268.2,188.8 267.7,189.6 268.2,191.3 268.1,190.6 268.1,191.4 268.4,192.7 268.2,191.3 268.0,192.4 267.6,193.8 267.7,194.1 268.0,193.8 268.3,195.1 268.6,196.3 268.4,194.9 268.3,196.0 268.6,196.4 268.0,195.8 268.2,197.6 268.0,197.0 268.2,197.4 267.9,198.9 268.1,199.6 268.4,199.8 268.0,199.3 268.5,202.3 268.2,201.2 268.2,202.7 268.5,203.3 268.0,202.1 268.2,203.2 268.4,203.8 269.1,204.4 268.7,206.3 268.8,205.8 269.0,205.7 268.2,207.8 268.8,207.3 268.3,208.2 268.6,208.4 268.6,209.5 268.7,208.6 269.2,209.1 268.7,210.1 269.2,210.0 268.8,211.5 268.8,211.5 269.0,212.1 269.2,211.8 269.2,210.6 269.3,210.4 269.3,210.1 269.4,209.6 268.9,208.4 269.2,207.7 268.9,208.9 269.3,208.4 268.9,207.0 269.2,205.6 269.0,207.2 269.6,205.6 269.4,206.0 269.9,204.8 268.9,205.0 269.0,202.9 269.0,203.1 269.5,202.5 269.4,201.1 269.7,201.7 269.3,201.9 270.0,201.7 270.1,199.0 269.5,199.4 269.3,199.7 270.1,197.6 269.7,199.3 270.1,197.4 269.3,196.9 269.7,197.3 269.4,195.5 270.3,194.3 269.9,194.0 270.1,194.3 270.3,193.3 270.3,192.8 269.4,192.0 269.4,192.3 270.5,191.7 270.2,190.3 270.0,191.1 269.6,190.7 270.0,189.6 270.4,190.0 269.7,188.0 269.6,187.9 270.3,189.2 270.7,188.5 269.8,187.8 270.5,186.4 270.8,186.3 269.8,184.8 269.9,185.3 270.4,185.4 269.9,182.9 270.7,183.0 270.2,183.7 270.1,183.0 270.7,182.1 270.5,180.8 270.5,181.1 270.6,180.5 270.5,180.0 270.4,179.2 270.6,178.5 270.4,178.2 270.8,178.1 270.5,178.2 270.7,176.6 270.7,177.1 270.6,175.9 270.8,176.4 270.9,174.4 270.8,174.1 270.8,174.5 270.4,173.5 270.7,173.3 271.2,172.4 271.0,171.5 270.7,171.6 271.0,170.3 271.3,170.5 270.8,169.4 271.4,170.6 271.5,168.4 270.6,168.9 270.6,169.0 271.3,167.1 271.1,167.5 270.8,166.2 271.5,166.5 271.3,164.5 270.9,164.4 270.8,164.9 271.4,165.2 271.4,164.7 271.3,163.1 271.1,162.5 271.9,162.0 270.9,161.2 271.1,161.4 271.5,160.5 272.0,160.8 271.1,158.3 271.8,159.3 271.7,158.6 271.1,158.0 272.0,157.9 271.1,156.1 272.1,156.7 271.3,156.7 272.2,156.6 271.9,155.9 271.3,154.5 272.1,153.7 271.4,154.6 272.1,151.8 271.4,152.8 272.4,152.4 272.3,150.6 272.0,150.3 271.8,149.7 271.9,148.9 272.2,150.0 272.5,149.9 271.6,149.6 272.1,149.3 272.1,146.5 272.4,146.3 272.7,146.7 272.6,146.1 272.0,146.1 272.5,145.0 272.0,144.4 272.5,143.4 271.9,143.6 272.5,142.0 272.1,143.9 272.1,142.9 272.2,140.5 272.4,142.2 272.8,139.4 272.7,140.5 272.5,140.1 272.6,138.3 272.8,137.7 272.4,139.0 272.7,137.7 272.8,137.2 272.6,136.8 272.3,135.9 272.4,136.6 273.0,135.5 272.5,135.3 272.6,134.7 272.9,133.8 273.0,132.9 273.0,132.7 273.0,132.6 272.9,131.7 272.8,132.1 272.9,132.2 273.2,133.5 273.0,133.8 273.3,133.4 273.0,135.0 273.2,135.2 273.0,135.1 273.4,135.8 273.7,137.7 273.8,136.6 273.3,136.6 273.2,137.0 273.4,139.9 273.7,138.8 273.2,140.8 273.0,141.1 273.9,139.5 274.0,141.5 273.5,141.4 273.7,142.2 274.0,143.7 273.5,141.8 274.0,144.0 273.9,143.0 273.3,145.7 273.7,145.1 274.4,144.8 274.0,144.9 274.0,147.3 273.6,147.8 274.5,148.5 274.3,149.3 274.3,148.7 274.4,149.9 274.3,150.1 273.8,149.7 274.0,151.6 274.5,150.5 274.8,150.4 273.8,151.6 273.9,153.8 274.2,152.8 274.8,153.7 274.6,153.9 274.4,155.8 274.2,155.1 274.5,154.6 274.2,156.1 274.9,156.4 274.1,158.2 274.3,158.6 274.2,158.5 274.3,157.9 274.7,159.7 274.7,159.3 274.7,160.1 274.6,161.7 274.6,160.1 275.0,161.2 275.2,160.9 275.2,162.2 275.4,162.6 275.0,163.2 275.1,163.6 275.2,164.4 275.3,164.7 275.2,165.6 275.3,166.2 275.2,166.1 275.3,167.0 275.2,167.1 275.2,167.6 275.5,168.3 275.7,168.5 275.3,168.9 275.2,170.4 275.6,169.9 275.9,171.4 275.6,171.8 275.9,171.8 275.3,172.1 276.3,172.7 276.0,172.4 276.2,175.0 275.7,174.2 275.9,174.3 275.6,174.5 276.2,176.0 276.5,177.7 276.5,178.2 276.5,176.2 275.8,179.3 276.6,178.8 276.4,178.8 276.2,178.6 276.4,179.4 275.9,181.5 276.5,182.0 276.2,181.7 276.2,182.9 276.2,182.9 276.6,182.5 276.1,183.5 276.7,184.8 276.3,183.7 276.5,185.8 276.5,185.8 276.3,184.9 277.1,186.5 276.4,186.9 277.4,187.2 277.0,187.8 277.0,187.3 277.4,189.2 276.9,188.9 276.8,191.1 277.5,190.2 277.3,191.1 276.9,190.5 277.5,191.3 277.4,191.6 277.0,192.4 277.5,193.7 277.7,194.2 277.5,194.0 277.5,195.0 277.8,195.5 277.8,195.4 277.9,196.4 277.5,196.8 277.4,197.6 277.6,198.4 277.6,198.9 278.1,199.5 278.5,198.9 278.3,199.7 278.5,201.2 278.5,201.2 278.0,202.4 278.8,203.0 278.2,203.2 278.6,203.7 278.8,203.2 278.4,204.6 278.7,204.4 279.0,203.6 278.1,205.2 278.3,206.7 278.3,207.3 278.5,205.9 279.2,207.8 278.9,208.0 279.1,209.4 279.1,208.9 279.1,209.0 279.4,208.8 279.4,211.3 279.6,210.9 279.2,210.2 279.0,211.8 279.9,213.2 279.2,213.3 279.9,213.2 280.0,212.9 279.5,214.2 280.0,214.6 279.6,216.1 279.7,215.5 279.6,216.1 280.2,216.4 280.2,217.1 279.7,218.4 280.0,218.2 280.4,218.2 280.0,218.8 280.3,219.6 280.2,219.6 280.6,217.6 280.5,218.1 280.5,217.1 281.4,217.0 280.8,216.9 280.8,216.2 281.6,214.6 281.6,214.7 281.9,215.0 282.3,214.4 281.6,212.9 282.3,214.0 281.8,212.5 282.2,212.1 282.5,211.7 282.7,211.3 282.7,211.0 282.4,210.4 282.5,209.6 282.6,209.5 282.3,209.4 282.3,207.7 283.1,208.9 282.6,208.3 282.2,207.8 282.4,205.0 283.1,204.8 283.1,203.9 282.4,204.3 282.4,204.1 282.7,204.2 282.9,204.3 283.3,201.8 283.4,203.1 283.0,201.7 282.6,200.7 282.7,199.8 283.2,199.7 283.4,199.8 283.4,198.0 283.5,198.6 283.3,197.4 283.4,197.3 283.4,197.3 282.8,196.1 283.5,194.8 283.4,195.7 283.5,194.6 283.3,194.5 283.6,192.9 283.4,192.9 283.5,192.4 283.1,191.8 283.8,191.7 283.8,192.1 283.2,191.1 283.1,191.4 283.6,189.3 283.5,189.5 283.7,188.7 283.8,188.6 283.6,188.0 283.4,187.8 283.8,186.8 283.8,187.0 283.9,185.3 283.9,185.1 283.9,185.3 283.7,185.3 284.0,185.0 284.2,183.7 284.0,183.4 283.7,182.5 283.8,181.2 283.6,182.4 284.3,181.5 284.1,180.5 284.0,180.4 283.4,179.3 284.5,178.2 283.9,177.4 283.7,178.8 283.5,178.3 284.4,177.9 283.8,177.6 283.9,175.8 284.6,175.6 284.3,173.9 283.6,173.8 283.7,174.8 283.9,174.7 284.4,172.1 284.4,172.0 284.3,170.8 284.6,172.2 284.4,171.5 284.1,169.5 284.1,170.6 284.4,168.5 284.1,168.9 283.8,167.2 284.3,167.0 284.8,166.5 284.7,167.7 284.2,166.6 285.0,166.2 284.4,166.7 284.2,166.1 284.3,164.2 284.3,164.3 285.0,163.9 284.2,164.2 284.9,162.4 285.0,160.9 284.8,162.2 285.0,161.4 284.2,160.4 284.4,160.2 284.6,159.3 284.8,159.2 285.2,157.8 284.5,157.1 284.4,158.3 285.2,156.1 284.7,157.3 285.2,156.9 285.3,155.0 284.6,154.5 284.9,153.7 284.8,153.9 285.1,153.0 284.8,152.7 285.0,152.4 284.8,152.4 284.8,153.9 285.4,153.1 285.4,155.1 285.3,154.5 285.5,154.3 284.7,157.2 284.9,157.6 285.5,155.7 284.8,157.8 284.9,158.4 285.5,157.7 285.3,158.2 285.7,159.8 285.6,160.3 284.9,161.5 285.7,161.0 285.5,161.5 285.7,162.1 285.2,162.5 285.2,161.7 285.5,164.5 285.8,163.2 285.6,164.7 285.7,164.9 285.6,166.0 286.1,166.1 286.0,167.0 285.3,166.4 285.5,167.2 285.7,167.5 286.3,169.2 285.7,169.5 286.2,168.9 285.9,170.9 285.8,171.2 286.0,170.9 285.9,171.6 285.8,171.5 285.9,170.4 286.0,170.5 286.3,170.4 286.3,168.5 286.0,167.5 285.8,167.7 285.8,167.6 285.8,167.6 286.1,166.0 286.5,165.7 285.8,166.6 286.6,166.2 286.1,164.1 286.6,163.3 286.9,164.1 286.5,162.0 286.3,162.5 287.1,161.3 286.7,160.6 287.1,161.9 287.0,161.4 286.3,159.6 286.2,159.9 286.3,158.4 286.4,159.9 287.1,157.7 287.4,156.9 286.5,157.0 287.2,155.7 287.3,156.4 287.3,155.4 286.5,154.2 287.3,154.8 287.4,153.5 286.9,153.1 287.5,153.9 286.8,153.4 286.8,152.3 287.0,152.4 287.4,151.7 287.1,150.1 287.4,150.7 287.1,150.3 287.4,149.4 287.6,149.7 287.5,150.6 287.8,151.2 287.5,152.0 287.5,150.8 287.6,152.2 287.4,152.7 287.3,152.9 288.0,155.0 287.7,155.4 287.3,155.0 288.0,156.2 287.7,155.1 288.3,156.8 288.0,156.6 287.5,157.7 287.8,159.0 288.1,159.2 288.1,159.7 287.6,160.8 288.2,160.3 287.8,159.4 288.4,161.6 288.3,160.9 288.2,162.7 288.4,163.6 287.8,163.8 287.7,163.9 288.4,162.9 288.3,165.0 288.8,163.9 288.4,166.3 288.1,167.0 288.8,166.3 288.3,166.5 288.4,167.5 288.7,168.6 288.6,168.6 288.7,168.7 288.6,167.9 288.3,166.9 288.2,165.6 289.1,165.0 288.6,165.6 288.9,163.8 288.5,165.0 288.9,162.9 289.0,163.2 289.6,161.8 288.7,161.4 289.2,163.2 289.5,160.5 289.2,160.6 289.8,161.0 289.4,159.3 289.3,159.5 289.2,159.1 288.9,158.2 290.0,157.7 289.5,158.0 289.8,157.3 289.5,156.7 289.6,155.9 289.5,156.5 289.4,156.5 289.4,157.2 289.8,157.1 289.9,157.7 290.0,159.8 289.8,160.1 290.1,159.8 290.0,159.3 290.0,161.3 290.0,160.5 289.3,162.0 289.9,162.9 289.4,163.1 290.3,162.8 290.1,165.2 290.0,164.3 289.7,164.9 289.4,164.3 289.6,165.1 290.3,166.1 290.2,167.1 290.3,168.5 290.1,167.8 289.6,168.6 289.7,169.9 289.4,169.8 289.7,169.8 290.0,171.8 290.5,170.6 290.4,172.7 290.0,172.2 289.6,173.3 290.0,173.7 290.4,173.8 290.2,174.1 289.6,174.4 289.5,174.2 290.5,175.2 289.6,175.9 289.6,176.8 289.8,176.3 290.2,178.7 289.5,178.6 290.2,178.5 290.0,177.8 289.9,179.6 289.9,181.3 290.0,181.5 290.5,181.8 290.1,181.6 290.5,181.1 289.9,181.3 290.2,182.9 290.7,184.6 290.1,184.1 289.8,185.1 290.2,184.4 290.5,184.7 290.0,186.0 290.6,186.0 290.1,187.5 290.2,188.1 290.1,187.8 290.3,188.6 290.2,188.5 290.1,187.8 290.6,187.7 290.6,185.9 290.4,185.6 290.1,185.1 290.6,185.2 290.1,184.1 290.0,185.1 290.7,183.5 291.0,184.3 290.2,181.9 290.2,182.4 290.6,181.6 290.8,181.1 290.3,181.0 291.0,178.9 290.6,178.6 290.9,178.9 291.0,179.0 291.1,178.2 290.7,178.8 291.0,176.6 290.2,177.6 290.2,177.1 291.2,175.9 291.2,175.3 291.0,174.8 290.4,172.9 291.0,173.4 290.3,173.2 290.5,171.9 291.2,172.3 291.1,172.3 290.8,170.9 290.8,170.1 291.2,171.0 290.6,170.0 290.6,167.7 291.1,169.2 290.7,169.3 291.2,167.0 291.2,167.9 290.6,167.6 290.9,165.4 290.9,165.5 291.0,164.4 290.5,164.8 291.3,164.5 290.9,164.4 290.5,162.0 290.5,162.6 291.1,161.2 291.1,160.1 290.6,162.2 291.6,159.3 291.3,160.0 291.2,160.2 291.3,159.9 291.3,159.3 290.9,158.5 291.1,158.2 291.4,157.7 291.4,156.3 291.3,156.3 291.1,155.4 291.3,154.9 291.3,155.6 291.2,156.0 291.5,156.2 291.5,157.6 291.3,157.5 291.4,158.6 291.2,158.0 291.3,159.3 291.1,160.6 291.4,160.5 291.4,159.2 291.3,161.1 291.0,162.7 291.6,161.8 291.0,161.8 291.3,163.3 291.2,163.4 291.3,164.1 291.8,164.5 291.8,165.3 291.1,165.9 291.6,166.7 292.1,166.1 292.0,166.3 291.8,166.2 292.0,167.8 291.6,168.5 291.5,168.3 291.9,169.8 291.2,169.4 292.2,169.9 291.5,171.2 291.6,172.7 292.3,171.0 291.5,171.6 291.7,172.4 292.0,174.5 291.3,172.8 291.4,174.0 291.4,174.8 291.7,176.1 292.4,177.3 291.8,176.9 291.5,177.3 292.3,178.5 291.5,177.2 292.4,179.1 292.2,177.9 292.1,178.3 292.2,180.8 291.8,179.2 292.3,182.4 292.1,181.2 291.8,182.9 292.6,182.2 291.7,184.4 292.0,183.4 291.9,184.6 292.5,184.5 292.4,184.9 292.1,186.1 292.5,186.5 292.3,187.1 292.4,187.7 292.2,187.5 292.0,188.1 292.2,188.6 292.1,187.5 292.5,187.3 292.5,186.4 292.2,187.1 292.4,186.4 292.3,184.7 292.6,185.7 292.3,184.7 292.7,184.1 292.3,183.5 292.6,183.7 292.2,183.3 292.2,182.5 292.3,182.6 292.9,181.8 292.3,180.2 292.4,180.3 291.9,179.7 292.9,177.9 292.9,178.7 293.0,178.6 292.8,178.2 292.4,176.0 292.9,177.5 292.8,175.3 292.6,175.5 292.4,175.0 292.6,175.8 292.8,175.3 293.1,172.6 292.9,172.7 292.8,172.7 292.9,171.5 292.9,171.1 293.0,171.0 292.9,171.8 292.5,168.7 293.2,169.5 292.9,169.8 293.2,168.2 293.3,167.7 293.0,168.3 292.7,166.7 292.7,166.0 292.7,166.9 292.4,166.7 293.2,165.1 293.0,163.9 293.1,164.8 292.8,163.4 292.7,162.4 293.2,162.7 292.9,162.1 292.8,160.8 292.9,161.0 293.0,160.4 292.9,160.9 292.9,161.1 293.2,161.7 293.2,162.8 292.9,162.1 293.3,163.5 293.1,164.3 293.1,165.4 292.5,166.1 293.2,165.2 293.5,167.0 293.1,165.1 293.2,166.7 293.1,168.3 292.6,168.9 292.8,167.8 292.5,167.9 292.8,169.5 293.5,169.1 292.8,170.1 293.2,170.6 293.3,170.5 292.6,172.2 293.3,171.5 292.6,173.4 292.6,174.6 293.3,173.1 293.0,173.3 292.6,174.6 293.5,176.6 293.4,176.4 293.2,176.5 293.3,177.0 293.0,178.4 292.9,177.8 293.3,179.7 292.9,178.8 293.0,178.8 293.0,180.8 292.8,180.5 292.9,181.2 293.4,180.5 293.1,181.2 293.3,183.0 292.8,182.3 292.9,183.1 293.6,185.0 293.5,184.3 293.1,184.3 293.1,186.7 292.7,185.8 292.8,187.5 293.0,187.0 292.7,188.0 293.2,188.7 293.4,189.1 293.0,188.6 293.3,188.9 293.5,190.4 293.2,190.4 293.0,191.2 293.2,191.6 293.4,190.7 293.0,190.9 293.3,190.6 293.3,190.6 293.8,188.7 293.5,188.9 293.5,189.0 293.8,188.5 293.3,187.2 293.7,186.9 293.2,187.0 293.7,184.8 294.2,185.3 294.1,185.3 294.0,185.3 293.4,183.3 293.6,183.6 293.7,181.5 293.7,181.4 294.2,181.6 294.1,180.0 294.2,180.1 293.8,179.1 293.9,179.5 294.0,179.2 294.0,179.4 294.9,177.8 294.0,179.0 294.1,177.7 294.9,176.8 295.1,175.4 294.9,176.9 295.1,176.2 294.7,174.9 295.1,174.1 294.7,173.1 294.7,172.9 295.2,172.7 295.0,172.4 295.0,173.5 295.2,173.3 294.8,173.7 294.9,175.4 295.1,176.1 294.9,174.2 295.6,174.8 295.6,176.7 295.0,177.8 295.2,178.7 295.4,179.1 295.8,178.1 295.6,179.6 295.6,178.2 295.6,180.7 295.1,179.4 295.0,181.1 295.1,182.4 295.5,183.3 295.8,182.3 295.3,182.8 295.8,184.5 296.1,183.6 295.2,185.0 295.9,185.4 296.1,186.4 295.9,186.9 295.4,187.7 296.0,186.1 295.6,187.9 295.8,188.9 295.8,188.6 296.0,189.6 296.0,189.6 295.9,189.6 296.2,188.7 296.4,188.8 296.3,187.7 295.6,186.4 296.3,185.6 296.3,185.7 296.0,186.4 296.5,185.7 296.1,184.6 296.7,185.1 296.3,182.4 296.7,181.8 295.8,182.9 295.9,182.7 296.5,180.6 296.7,182.3 296.5,181.8 296.7,179.9 296.7,180.6 296.6,177.9 296.2,179.0 296.3,177.1 296.4,176.5 296.4,175.9 296.7,175.7 297.0,174.9 296.6,175.8 296.2,175.2 296.6,174.7 296.3,173.9 296.8,173.6 296.4,172.7 296.6,172.4 296.8,172.4 296.6,173.4 296.6,173.2 296.4,175.0 296.6,174.5 296.6,174.5 296.3,176.6 296.9,175.7 296.5,175.8 296.5,177.4 297.0,177.9 297.1,179.7 296.8,177.7 296.3,179.8 296.3,180.9 296.3,179.2 297.3,180.6 296.8,181.6 296.4,181.4 296.7,183.0 297.1,183.4 296.5,183.3 297.3,183.0 296.7,184.7 297.4,183.6 297.1,185.3 296.9,186.7 296.4,186.6 296.7,187.5 297.1,187.1 296.5,188.5 297.2,188.5 297.2,190.0 296.7,189.8 297.3,189.2 297.4,189.9 297.5,191.1 297.5,192.3 297.3,191.5 297.0,192.6 297.4,192.6 297.5,192.6 297.1,192.9 296.7,193.8 296.6,195.0 297.2,195.1 297.4,195.9 297.3,195.2 296.9,195.6 296.8,198.1 296.8,198.0 297.0,198.7 297.4,199.4 297.5,200.1 297.1,200.5 297.3,200.0 297.1,200.8 297.2,201.3 297.7,199.9 298.0,200.8 297.9,199.6 297.8,199.1 298.4,198.7 298.6,199.3 298.1,196.8 298.7,197.4 298.9,197.6 298.9,198.3 298.6,198.1 298.8,199.6 298.5,198.9 298.7,201.2 299.1,200.3 298.8,201.2 299.2,201.3 298.8,202.4 298.7,202.7 299.3,203.4 298.6,203.5 299.1,203.7 299.0,205.0 299.0,204.5 299.6,204.7 299.6,205.3 299.3,206.9 299.1,207.6 299.7,207.4 298.8,207.5 299.7,209.1 299.6,209.0 299.2,210.3 299.5,211.3 299.0,210.4 299.7,212.3 299.4,212.5 299.1,212.6 299.3,213.3 299.3,212.5 299.3,214.3 299.8,215.3 299.5,213.7 300.0,214.6 299.9,215.7 299.6,215.1 299.4,217.4 299.7,218.2 300.1,217.8 300.3,217.1 299.7,218.8 299.5,219.9 299.6,219.9 299.8,220.0 299.9,220.4 299.8,221.4 300.0,221.7 300.1,221.8 300.3,222.2 299.8,222.9 299.9,223.7 300.3,223.5 300.1,225.0 299.8,224.9 299.9,226.7 300.3,226.2 299.5,226.4 300.3,227.1 299.9,228.1 299.5,228.6 300.2,227.8 299.9,230.1 299.7,229.8 299.8,230.4 299.9,230.4 300.5,231.8 300.5,231.4 300.0,231.9 300.4,232.5 300.2,232.5 300.0,233.2 300.5,234.0 300.5,235.0 299.8,235.4 300.5,236.3 300.4,236.5 300.1,235.9 300.4,237.7 300.2,237.3 300.3,238.4 299.8,240.0 300.3,239.8 300.4,240.3 299.9,241.5 300.4,241.3 299.9,241.4 299.5,242.8 300.4,242.6 300.0,243.6 299.5,243.1 299.7,244.1 299.9,244.6 300.4,244.7 299.7,244.5 300.2,245.8 300.0,245.7 299.8,246.3 300.2,246.9 300.0,247.9 300.0,247.4 300.2,246.3 300.4,246.7 300.9,244.9 300.2,244.4 300.3,244.2 300.1,245.2 300.4,244.5 301.1,244.1 300.3,243.1 301.3,242.7 301.2,241.7 301.4,241.5 301.1,240.9 301.3,240.4 301.3,240.5 301.5,241.9 301.6,241.0 301.4,243.0 301.2,242.9 301.9,243.5 301.5,242.7 302.0,243.6 301.9,245.0 302.1,244.5 302.5,246.5 302.4,245.7 302.3,246.6 302.3,247.9 302.1,249.1 302.2,248.4 302.5,248.1 302.8,249.1 302.8,249.1 302.1,250.7 302.2,250.8 302.3,252.0 302.9,252.4 302.3,251.4 302.8,252.1 303.0,253.6 303.2,254.5 303.0,254.9 303.0,255.0 303.0,255.3 302.8,256.2 303.2,256.7 303.1,256.9 303.5,257.3 302.9,258.8 303.4,259.3 303.7,258.8 302.9,259.5 303.3,259.7 303.6,259.9 303.9,260.3 303.1,262.3 303.1,262.5 303.2,262.2 303.4,262.3 303.9,264.5 304.0,263.1 303.0,264.3 303.9,265.0 304.1,266.6 303.8,265.3 303.6,265.4 303.6,267.5 303.5,266.7 303.8,268.9 304.0,267.5 303.7,268.3 304.2,269.2 303.8,270.8 303.7,270.3 304.5,270.4 304.0,271.7 303.8,272.2 303.9,273.2 304.1,273.4 304.2,273.8 304.0,273.0 304.0,273.9 303.6,275.5 304.2,275.3 304.5,274.8 303.8,276.9 303.8,277.7 304.3,278.5 304.7,277.6 304.2,278.2 304.7,278.7 304.7,280.5 304.7,279.9 304.7,280.3 304.6,280.7 304.9,282.1 304.6,281.9 304.4,282.4 304.9,282.5 304.8,283.1 304.7,283.8 304.9,283.0 305.0,283.3 304.5,283.1 305.2,281.2 305.0,281.5 305.6,280.1 305.0,279.7 305.7,279.7 306.0,279.9 305.7,279.1 305.5,278.7 306.2,277.3 306.3,276.6 306.8,277.1 306.8,276.9 306.2,276.4 306.7,275.3 306.7,275.0 306.8,274.8 306.8,273.7 307.0,274.0 306.7,273.6 307.1,272.3 306.6,271.6 306.8,270.9 306.6,271.4 306.5,270.7 306.8,270.5 306.7,269.5 306.6,267.9 307.4,268.2 306.8,269.1 306.9,267.6 306.6,266.8 307.5,267.3 307.4,267.0 306.8,264.5 306.7,265.4 307.2,264.2 307.4,263.4 307.3,263.4 306.8,263.7 306.9,263.3 307.5,261.9 307.2,260.9 306.9,261.5 307.2,260.7 307.2,259.5 307.0,260.2 307.3,258.2 307.8,257.7 307.1,257.3 307.5,258.3 306.9,258.1 307.7,257.4 307.4,255.9 307.1,255.0 307.9,254.6 308.0,255.4 308.0,253.2 307.5,254.4 307.4,252.5 307.1,252.7 307.7,251.4 307.4,251.9 307.3,251.8 308.1,250.4 307.3,250.3 307.5,248.7 308.0,249.3 307.5,248.0 308.1,249.2 307.7,247.9 307.5,247.1 308.0,246.2 308.0,246.3 307.4,244.7 307.8,244.3 308.0,244.9 308.1,245.1 308.1,244.3 307.6,244.1 308.5,242.9 308.4,242.3 308.0,240.9 308.1,241.6 308.4,241.5 308.2,241.0 308.1,238.8 308.1,239.3 308.4,238.3 307.9,238.5 308.1,238.1 308.3,236.8 308.3,237.0 308.3,236.2 308.2,237.2 308.1,236.8 308.5,238.0 308.5,238.9 308.3,237.9 308.6,238.9 308.5,239.5 309.0,239.7 308.9,240.9 308.5,242.2 308.5,241.2 308.4,242.7 309.0,242.4 308.4,243.5 308.7,243.9 309.1,243.0 308.5,245.5 309.4,244.2 308.8,245.6 309.5,245.8 309.6,245.7 309.6,246.2 309.3,248.9 309.5,249.3 309.1,249.9 309.8,248.7 309.7,250.8 309.1,250.0 309.8,250.9 310.0,251.1 309.5,250.9 309.3,253.2 309.4,253.7 310.0,253.4 309.5,252.6 309.3,255.1 310.3,255.9 309.6,256.3 309.8,255.5 310.3,257.1 310.1,256.3 309.6,256.5 309.8,257.1 310.1,257.9 309.9,259.5 310.0,258.5 309.9,259.9 310.0,260.4 310.0,260.8 310.3,261.3 310.4,260.9 310.2,260.9 311.0,260.5 311.1,260.5 310.5,258.9 310.7,259.0 310.5,257.2 310.9,257.4 311.5,256.4 310.5,256.1 311.6,254.9 311.2,255.6 311.7,254.4 311.5,255.5 312.0,254.0 311.4,253.7 311.9,253.3 311.9,252.1 312.0,251.6 311.6,250.7 312.0,250.5 312.0,250.4 311.9,250.7 312.0,251.3 312.4,251.9 312.2,252.2 312.3,253.4 312.3,253.4 312.2,253.2 312.1,253.5 312.2,253.8 312.4,255.5 312.1,256.5 312.5,256.6 312.5,257.6 312.8,256.4 312.7,257.3 313.0,258.0 312.5,257.7 313.4,258.4 312.6,260.8 312.4,260.1 312.9,261.2 313.3,262.4 312.9,260.8 312.8,261.1 312.9,263.1 313.6,262.3 313.0,264.7 313.4,264.0 312.9,263.7 313.1,265.5 312.9,265.7 313.8,265.0 313.3,266.5 313.7,267.8 313.8,267.6 313.5,268.5 313.6,269.7 313.8,269.4 314.0,269.7 313.8,270.6 314.0,271.9 313.7,271.2 314.5,272.4 314.1,271.7 313.7,272.5 314.0,273.0 313.9,273.6 314.3,273.2 314.4,275.2 314.0,274.6 313.9,275.6 314.5,276.0 314.5,276.8 314.1,276.4 314.5,278.3 314.7,278.0 314.5,278.2 314.7,279.4 314.7,279.6 314.8,278.5 314.9,279.1 315.6,278.0 315.9,277.6 315.1,276.7 316.2,277.4 315.6,276.0 316.1,276.0 315.9,276.6 316.6,274.6 316.2,274.9 317.4,274.8 317.5,274.6 317.4,272.7 317.5,272.9 317.5,273.5 317.6,273.2 317.3,275.2 318.1,274.4 318.0,276.2 317.7,276.2 317.9,277.3 318.6,277.9 318.3,277.3 318.3,277.5 318.9,279.1 318.7,278.8 319.0,278.7 318.8,278.0 319.1,277.2 319.2,277.3 318.7,276.0 319.1,275.1 318.6,274.6 318.5,275.8 319.5,275.1 319.0,274.4 319.2,273.2 319.1,271.9 318.8,272.0 319.0,272.2 318.9,270.7 319.6,271.5 319.7,271.0 318.9,269.8 319.7,270.1 319.0,268.8 319.4,267.2 319.1,268.4 319.6,267.2 319.5,266.9 319.3,265.4 319.8,266.5 319.5,266.0 319.9,265.3 319.9,265.5 319.1,264.9 319.6,264.0 320.0,261.9 319.8,261.4 320.0,261.5 319.6,260.8 320.1,261.2 319.7,260.9 319.6,260.4 320.0,259.8 320.0,259.5 320.1,258.4 320.0,257.9 320.1,258.5 320.0,258.6 320.5,259.9 320.8,260.2 320.4,260.1 320.7,261.2 321.1,261.9 320.5,261.3 320.2,263.0 320.8,262.5 320.4,263.2 321.4,263.2 321.4,264.9 321.3,264.9 321.0,265.6 321.4,266.8 321.4,265.8 321.9,267.0 321.4,267.5 321.3,266.9 322.2,268.0 322.2,267.9 321.9,268.5 322.3,269.8 322.0,269.8 321.9,269.9 322.4,270.7 322.1,271.4 322.4,272.6 322.5,272.5 322.7,272.7 323.6,273.9 323.3,273.5 323.3,273.3 323.9,274.9 324.2,275.0 324.1,275.5 324.2,276.2 324.4,276.9 325.0,276.7 324.7,276.5 324.7,278.3 325.5,277.6 325.8,279.9 325.2,279.5 325.7,279.5 325.5,281.0 325.8,280.8 326.0,280.5 326.0,281.5 325.9,282.4 326.3,282.9 326.5,282.4 326.4,282.1 326.4,282.1 326.3,280.0 326.7,280.8 326.6,279.7 326.6,278.8 327.1,279.8 326.6,278.6 326.9,277.0 327.2,277.5 327.6,277.9 327.6,275.8 326.7,276.6 326.8,275.8 326.9,275.4 326.9,273.4 327.8,273.9 327.4,274.5 327.9,272.2 327.8,272.1 327.6,271.5 327.4,270.9 327.6,270.2 328.3,270.1 328.0,270.6 328.2,268.6 328.5,269.9 328.5,268.0 328.5,268.2 327.7,267.1 328.5,267.0 328.9,267.1 328.8,267.0 328.3,266.2 328.1,265.4 328.3,264.4 328.6,263.3 328.8,263.7 328.8,262.9 328.8,263.1 329.3,263.9 328.7,264.0 329.8,264.3 329.2,265.2 330.0,266.6 329.6,266.7 329.3,265.8 329.8,267.6 329.7,266.7 330.6,267.5 329.8,267.8 330.0,268.8 330.7,270.2 330.5,270.3 330.6,271.0 330.5,271.5 330.5,272.8 330.9,272.4 331.0,272.6 331.3,273.5 331.7,274.1 331.7,274.2 332.1,274.6 331.9,274.9 331.8,275.7 332.6,275.1 332.4,276.2 332.4,276.6 332.6,277.6 332.2,278.0 332.0,277.7 333.1,278.1 332.6,280.0 332.3,281.1 332.6,281.7 332.9,281.3 333.2,280.6 333.2,282.6 333.6,283.1 333.5,282.2 333.3,283.5 333.2,284.5 333.4,284.6 333.7,285.0 333.6,285.1 334.1,286.2 334.1,286.7 334.0,287.9 333.5,287.2 333.7,288.2 333.9,289.5 333.8,288.5 334.6,290.0 334.1,289.7 334.5,289.7 334.6,290.4 334.7,290.5 334.9,292.8 334.0,291.7 335.0,293.7 334.4,294.2 334.7,293.4 334.9,294.3 334.3,295.8 335.0,294.9 334.8,296.4 334.8,296.1 335.0,297.5 335.0,297.5 334.8,297.7 335.1,299.2 335.6,298.1 335.4,298.7 335.0,299.1 335.4,301.6 336.0,300.7 336.0,301.9 335.1,302.9 335.4,303.6 335.3,303.9 335.8,303.5 335.5,303.9 336.2,304.6 336.5,305.0 336.5,304.6 336.4,306.2 336.6,306.1 336.2,307.6 336.0,307.1 336.8,308.3 336.4,307.4 336.7,308.8 336.4,309.2 336.4,310.3 336.7,310.4 337.0,310.5 337.0,308.9 336.9,309.9 336.6,308.1 336.8,307.2 337.1,307.8 336.9,307.9 337.4,305.8 337.2,306.1 337.5,305.6 337.4,304.7 337.9,303.6 338.0,304.9 338.2,302.8 338.3,302.2 337.9,301.5 338.4,301.4 338.3,300.8 339.0,300.4 338.9,301.4 338.7,300.4 338.7,300.4 339.1,298.6 339.2,298.4 339.2,298.3 339.3,297.4 339.4,297.6 339.8,296.4 339.2,296.2 340.3,295.9 340.1,296.0 340.2,295.9 340.7,294.9 340.6,293.0 340.2,293.8 340.6,293.7 341.0,292.0 340.4,292.2 340.5,291.4 340.8,290.6 341.3,290.7 341.4,289.1 341.6,289.7 341.5,288.9 341.8,289.5 341.7,290.5 341.9,290.6 341.2,289.8 342.0,292.2 341.7,291.2 341.8,293.1 342.2,292.0 341.7,292.6 342.3,293.2 342.6,294.1 341.9,294.6 341.9,296.2 341.8,295.6 342.2,295.2 342.1,297.9 342.9,297.1 342.9,298.7 343.0,298.8 342.7,298.8 342.9,299.5 343.3,299.0 343.2,300.7 342.8,301.3 342.8,301.1 343.0,301.7 343.1,302.8 343.0,303.3 343.5,304.1 343.2,304.0 343.9,305.0 343.8,305.4 343.8,305.2 343.4,305.6 344.4,307.1 343.4,306.1 343.8,307.8 343.8,308.1 343.9,307.6 344.8,307.6 344.5,308.4 344.7,308.6 344.7,309.6 344.7,310.4 345.0,309.7 345.0,308.7 345.3,309.2 345.5,309.0 344.6,308.5 345.0,306.8 345.7,307.4 345.2,305.5 345.6,305.0 345.2,304.5 345.2,305.6 345.4,305.7 345.5,304.8 346.1,304.0 346.0,302.3 346.3,303.6 346.1,301.4 345.7,301.1 346.7,300.8 346.1,300.8 345.9,300.9 346.7,299.4 346.2,299.9 346.8,299.1 346.7,298.3 346.7,298.7 347.4,296.3 348.1,297.5 347.5,297.5 348.2,296.5 347.8,295.0 349.0,294.1 348.7,294.0 349.2,294.4 349.3,294.4 349.6,295.3 349.7,296.8 350.0,295.7 349.4,297.6 349.5,298.4 349.6,298.2 349.5,299.0 349.6,298.8 350.2,300.2 349.6,299.2 349.8,301.1 350.4,301.5 350.6,300.8 350.3,300.8 350.3,302.7 350.2,303.7 350.3,303.4 350.8,303.5 350.8,304.4 350.8,305.0 350.6,305.0 351.1,306.5 351.3,307.2 351.4,307.6 351.7,307.7 351.5,307.2 351.3,307.5 351.3,308.7 351.6,309.6 352.3,309.4 352.5,311.2 351.8,311.1 351.9,310.4 352.1,311.2 352.0,311.3 353.0,313.7 353.1,312.4 352.3,314.7 352.8,314.0 353.2,314.9 353.1,314.9 353.3,315.8 353.2,316.6 354.2,315.7 353.6,317.2 353.9,317.6 354.3,317.6 354.1,318.4 355.1,318.2 355.0,320.2 355.3,319.6 355.9,321.0 356.0,320.5 355.8,321.3 355.9,320.8 356.2,320.5 356.2,319.9 356.6,319.1 356.0,318.1 356.2,317.5 357.1,318.0 357.0,317.3 356.8,316.3 357.3,316.2 356.9,316.5 357.5,316.6 357.2,314.8 357.7,314.3 357.1,313.9 357.3,313.0 358.0,312.7 357.9,312.1 357.5,312.7 358.3,312.0 358.2,310.3 358.2,311.3 358.6,310.3 358.6,308.9 358.1,309.9 358.1,308.1 358.7,308.5 359.0,308.3 359.3,306.9 359.0,306.3 359.2,306.2 359.2,306.2 359.7,307.3 359.5,306.9 360.0,307.6 359.9,308.0 359.5,308.3 359.9,309.2 360.0,310.6 359.7,309.8 360.1,310.9 360.1,311.3 359.9,311.2 360.6,312.9 360.7,313.4 360.6,312.9 361.1,314.2 360.7,314.0 360.7,316.2 360.8,316.3 360.6,316.3 360.8,315.9 360.9,316.8 361.4,317.3 361.7,317.3 361.7,318.4 361.7,318.9 361.5,320.0 361.7,320.0 362.1,320.8 362.2,321.4 363.0,321.9 363.2,321.5 362.7,323.1 363.6,323.6 363.4,323.0 364.2,322.9 363.6,323.3 364.0,324.3 364.4,324.9 364.7,325.4 364.5,324.7 364.9,323.8 364.9,324.6 365.2,324.3 365.5,322.9 364.7,321.4 365.4,322.7 365.2,320.6 365.8,321.0 365.5,319.6 365.7,320.1 366.0,320.4 365.4,319.7 365.7,318.3 365.8,318.7 366.0,316.5 366.2,316.2 365.7,315.5 366.2,315.9 365.9,314.7 367.0,315.1 367.2,314.6 367.2,314.5 366.7,312.5 366.5,313.7 367.2,312.1 366.7,312.4 367.6,311.1 367.6,311.1 367.1,310.1 367.5,310.6 367.5,309.6 367.5,309.5 367.7,309.8 368.1,310.6 368.5,311.6 368.8,311.1 369.3,311.3 369.3,311.7 370.0,312.9 369.8,312.6 369.9,311.9 370.5,311.6 370.1,310.8 370.3,310.1 369.9,309.2 370.1,308.8 370.3,308.0 370.7,307.8 370.7,308.4 370.7,308.0 371.1,306.9 370.5,305.4 371.1,305.7 370.7,304.6 370.7,305.9 371.1,305.3 371.5,303.5 370.9,304.4 371.0,303.3 371.8,302.5 371.3,303.1 371.9,302.6 371.8,300.4 371.1,299.5 372.1,300.2 372.2,300.7 371.5,300.2 371.6,297.9 371.7,299.3 372.5,297.3 372.0,297.9 372.4,297.5 372.0,295.6 372.3,296.4 372.4,295.8 372.2,294.7 372.6,294.3 372.5,293.7 372.8,294.6 372.6,295.0 373.0,295.0 372.9,296.4 373.4,297.3 372.9,297.0 373.2,297.9 372.9,297.5 373.0,298.8 373.6,297.4 373.1,298.2 373.7,300.2 373.5,299.0 373.8,300.7 373.8,300.4 373.8,300.8 374.3,301.7 374.2,302.5 374.2,302.9 374.1,302.2 374.4,302.3 374.5,300.9 374.1,300.3 374.1,300.2 374.6,300.7 374.5,298.7 374.3,298.2 374.2,298.6 374.5,297.2 374.3,298.3 374.7,297.2 374.4,296.0 374.9,294.8 374.8,296.5 374.8,293.9 374.2,295.1 374.4,293.7 374.9,293.8 374.5,293.4 375.3,292.4 374.7,292.4 375.3,291.9 375.4,291.6 375.4,289.9 375.1,289.3 374.6,289.1 375.5,288.5 374.8,289.5 375.6,288.6 374.9,288.2 374.6,285.8 374.7,286.1 374.9,286.8 375.1,286.3 375.2,284.7 375.1,283.4 375.2,285.0 375.8,284.5 374.9,282.8 375.7,281.7 374.9,281.3 375.0,282.0 375.7,282.1 375.0,281.0 375.8,279.2 375.1,280.6 375.9,278.0 375.3,278.8 375.3,277.9 375.4,276.8 375.7,277.1 375.9,275.8 375.7,275.5 375.8,275.2 375.8,275.0 375.8,275.3 376.3,274.5 376.5,272.9 376.7,274.3 376.3,273.5 376.7,271.5 377.2,272.6 376.9,270.6 377.4,270.1 377.6,271.2 377.8,269.9 377.6,270.3 377.7,270.4 378.0,272.2 378.0,272.0 378.3,273.2 378.6,272.5 377.8,274.4 378.3,274.8 377.9,275.1 377.9,274.0 377.9,275.0 378.3,276.2 378.9,276.2 378.6,276.6 378.4,276.8 378.1,277.3 378.9,279.1 378.9,278.7 378.7,278.6 378.5,281.0 378.9,280.1 378.9,280.8 378.7,281.1 378.9,282.7 379.4,281.9 379.1,282.4 379.4,282.9 379.2,283.8 379.3,282.6 379.4,282.7 378.9,281.5 379.6,281.8 379.5,280.3 379.6,280.5 379.4,280.6 379.6,279.9 380.3,278.2 380.1,279.2 380.7,278.8 380.7,278.3 380.1,278.1 380.8,276.9 381.0,275.5 381.0,275.7 380.8,275.4 380.9,276.2 380.7,276.4 380.6,276.0 381.6,276.8 381.1,276.9 381.8,278.3 381.8,278.3 381.4,278.7 381.6,280.3 381.7,280.5 381.5,281.8 381.3,280.4 382.1,282.8 382.3,281.6 382.5,282.6 382.2,283.5 382.3,284.6 382.7,283.7 382.8,284.2 382.7,284.3 382.7,285.1 383.2,286.5 382.6,287.7 382.4,287.7 383.0,286.4 382.9,287.3 383.5,287.8 383.2,289.1 383.0,290.0 383.3,290.0 383.5,290.7 383.3,290.3 383.4,290.4 383.4,292.0 383.7,293.1 383.6,292.3 384.1,293.9 384.0,293.3 383.9,294.2 384.3,295.7 384.3,295.1 384.9,295.3 384.3,297.5 385.2,296.7 385.0,297.5 385.0,297.9 385.0,299.0 385.7,299.4 385.3,300.3 386.0,299.2 385.8,299.7 386.3,301.7 385.7,302.0 385.7,300.9 386.1,301.5 386.1,303.8 386.3,302.9 386.0,304.1 386.5,305.4 386.2,304.8 386.6,305.1 386.4,305.6 386.9,305.8 386.8,307.0 387.4,307.4 387.2,307.9 387.2,306.9 387.4,306.7 387.2,306.4 387.8,305.6 388.0,305.7 387.4,303.9 388.0,304.7 388.1,303.3 388.0,303.9 388.2,303.0 388.1,302.7 388.5,300.8 388.9,302.2 389.2,302.0 389.0,300.4 388.7,300.4 388.9,299.1 388.7,299.2 389.5,299.1 389.0,297.3 389.6,296.6 390.0,297.9 389.8,296.0 389.8,296.4 389.8,295.7 390.0,295.0 390.2,295.1 390.5,294.4 390.4,294.5 390.6,293.5 390.5,291.7 390.9,291.5 391.4,291.0 391.5,290.8 390.9,290.9 391.1,291.4 391.6,288.9 391.4,288.4 391.7,288.9 391.7,288.6 392.0,287.9 392.0,288.8 392.3,288.5 392.5,288.4 392.0,288.8 392.8,290.5 392.8,292.1 392.0,292.3 392.0,292.4 392.9,292.1 393.1,293.5 392.7,292.9 392.4,292.9 392.9,294.5 392.6,295.0 392.5,294.9 393.2,295.1 393.1,295.6 393.5,296.4 393.5,297.9 393.3,297.9 393.7,297.1 393.6,296.2 394.0,296.8 393.1,295.1 393.3,295.1 394.2,295.6 393.6,295.2 393.4,294.1 393.9,292.5 394.5,293.4 394.7,292.8 394.4,291.1 394.3,292.4 394.4,291.4 394.4,290.2 394.0,289.4 394.3,288.6 394.2,289.7 395.3,289.0 395.1,287.6 395.1,287.4 395.0,287.1 395.2,287.3 395.0,288.1 395.0,288.2 395.4,289.6 395.8,289.9 395.2,290.0 395.5,290.8 395.9,291.3 396.0,291.5 395.5,291.0 395.4,292.6 395.1,293.0 395.3,293.1 396.2,295.1 395.4,294.8 395.9,294.1 395.7,295.7 395.9,296.3 395.6,296.9 396.3,296.4 396.3,298.6 396.7,298.4 396.3,299.2 396.3,299.6 396.3,299.7 396.7,300.3 396.7,300.3 396.4,301.5 396.6,301.5 396.6,301.7 396.9,303.3 396.6,303.3 396.9,303.8 397.0,304.0 397.0,304.6 396.8,303.9 397.2,303.9 397.7,303.5 397.4,302.3 397.7,301.3 397.8,301.7 397.4,301.7 397.6,301.9 397.2,299.2 397.8,299.1 397.5,300.4 397.9,298.3 397.7,297.7 397.7,297.0 398.6,297.9 397.9,296.0 398.6,297.1 398.0,296.4 398.3,295.4 398.4,296.5 398.4,296.3 398.1,297.0 398.3,298.2 398.3,298.8 398.5,299.1 399.0,299.9 398.9,299.1 398.6,299.3 398.5,299.9 398.8,301.6 398.6,301.4 399.2,301.1 399.4,301.7 399.6,302.1 399.8,303.0 399.0,303.1 399.2,303.5 399.4,306.0 399.5,305.2 400.0,304.9 399.3,307.3 399.6,306.1 399.6,308.0 400.5,307.7 400.2,308.3 399.9,308.6 400.1,309.0 400.4,309.4 400.3,310.4 400.3,310.2 400.1,310.2 400.7,309.2 400.3,307.7 401.1,309.0 400.3,308.1 400.6,305.9 401.1,305.4 401.5,306.6 401.0,304.5 401.3,305.4 400.9,304.8 401.0,303.5 401.2,302.4 401.7,302.4 402.2,303.2 402.0,301.8 402.0,301.1 402.0,300.8 402.1,300.4 402.2,299.7 402.8,300.5 402.7,299.7 402.4,297.4 402.4,297.9 403.1,298.0 403.4,297.6 402.9,295.4 403.2,295.6 403.8,296.4 403.5,295.6 403.8,294.6 403.6,295.1 404.2,293.7 404.4,292.4 404.2,292.7 404.2,292.1 404.2,292.0 404.5,293.8 404.2,294.5 405.2,293.3 404.8,294.5 404.7,294.1 404.7,296.5 405.5,297.0 405.2,296.4 404.9,296.7 405.5,298.5 405.1,298.2 405.4,299.0 405.8,298.8 405.9,299.0 406.8,297.5 407.0,297.8 407.1,297.4 407.4,297.9 408.3,297.1 408.7,297.6 408.4,298.1 408.3,299.0 408.9,298.1 408.7,298.7 409.1,298.9 409.4,299.5 409.5,300.3 409.3,302.0 409.8,302.8 409.1,303.0 409.5,302.2 409.6,304.5 409.2,304.4 409.9,305.3 409.9,304.3 410.5,304.5 410.4,305.4 409.8,305.6 410.8,306.1 410.9,306.6 410.9,307.1 410.8,308.4 410.8,308.8 410.9,308.8 410.8,308.6 411.1,307.9 410.9,307.9 411.5,306.2 411.0,306.7 411.5,306.4 411.9,305.4 411.8,303.5 412.0,304.3 411.3,302.3 411.4,302.1 412.2,302.9 412.2,301.5 412.6,300.5 411.9,300.7 412.0,300.8 412.7,300.4 412.2,299.5 412.3,298.9 412.6,297.5 413.0,298.5 413.0,296.5 412.6,297.2 413.1,296.4 413.0,295.8 413.4,296.2 413.0,296.7 413.2,297.0 413.8,297.4 413.9,298.5 413.2,298.8 414.3,299.6 414.4,300.1 414.7,299.2 414.2,300.1 414.7,300.8 414.7,302.2 414.1,302.6 414.6,302.3 415.0,303.5 415.0,303.8 415.0,303.7 415.0,301.9 416.2,303.5 416.5,303.2 416.5,301.8 416.5,301.2 417.2,301.8 416.9,299.6 417.3,299.7 417.5,299.4 417.9,300.6 418.0,299.4 418.1,300.0 418.3,302.0 418.7,301.7 418.3,303.2 419.3,302.7 418.6,303.6 419.2,303.4 419.4,303.8 419.7,304.6 419.6,304.3 420.0,303.5 420.5,303.2 420.0,302.1 420.6,302.6 420.8,302.3 420.7,301.9 421.1,300.2 420.8,300.6 421.7,300.9 421.9,300.1 421.8,298.3 421.7,298.9 422.0,297.9 422.0,298.4 422.2,298.1 421.9,298.8 422.7,300.5 422.0,299.5 423.1,300.0 422.9,301.5 423.1,302.3 422.3,302.9 423.1,301.7 423.5,302.7 423.0,303.8 423.2,304.4 422.8,305.5 423.3,304.2 423.4,304.9 423.4,306.6 423.9,305.8 423.4,308.2 423.9,306.9 424.0,307.5 423.5,308.9 423.7,308.5 424.2,310.1 424.2,310.0 424.1,310.8 424.2,310.2 424.1,310.4 425.0,312.9 424.3,311.6 424.5,312.7 424.9,312.7 425.6,313.0 425.5,313.5 425.7,314.0 425.3,316.4 425.5,315.7 426.1,317.4 426.1,315.9 426.4,317.7 426.4,317.5 426.7,317.5 426.6,318.8 426.7,319.2 427.3,320.2 426.8,319.9 427.4,320.3 427.0,322.2 427.6,320.7 427.5,320.9 428.5,321.7 428.3,322.9 428.7,323.3 429.2,322.3 429.0,322.1 429.9,320.6 429.6,320.6 430.3,321.3 430.6,319.6 430.8,319.6 431.3,319.2 431.0,319.2 431.8,320.8 432.0,321.2 432.0,320.7 432.8,321.5 433.0,322.1 433.1,322.1 433.2,321.5 432.9,320.6 433.0,319.4 433.3,319.4 433.4,320.1 433.6,318.2 433.5,317.9 434.4,317.8 434.7,317.5 434.5,316.5 434.8,316.1 434.2,315.1 435.0,314.2 434.5,315.0 435.1,314.2 435.2,313.6 435.3,312.2 435.2,313.9 435.5,312.0 435.7,312.5 435.7,311.2 435.8,310.8 436.4,311.0 436.1,310.4 436.4,309.2 437.2,308.8 437.6,308.7 437.9,307.5 437.6,306.8 438.3,308.2 438.3,307.1 438.4,307.5 439.0,307.9 438.4,307.8 439.2,309.8 438.9,310.1 439.3,310.5 438.7,310.9 439.6,311.0 439.2,311.9 439.1,311.5 439.7,313.7 439.2,313.5 439.8,312.7 439.7,313.8 440.0,314.6 440.6,313.5 440.7,314.4 441.6,315.1 441.7,313.7 442.2,313.7 442.2,314.8 442.5,315.3 442.5,314.9 443.0,316.8 443.3,316.8 443.8,316.3 443.6,318.1 443.9,316.6 444.0,319.0 443.9,318.5 444.8,319.1 444.7,319.6 444.9,319.2 445.3,318.5 445.6,318.6 445.2,317.9 445.2,316.1 445.5,315.6 445.5,316.9 446.4,315.0 445.6,314.8 446.1,313.8 446.6,313.4 446.5,313.2 446.7,312.3 446.7,313.4 446.5,311.8 447.0,311.7 446.8,311.6 447.3,310.3 447.6,309.6 447.4,310.3 447.6,308.3 447.1,308.0 448.1,309.2 447.5,306.8 448.0,306.6 448.3,307.8 448.3,307.0 448.4,306.6 448.1,305.9 447.7,305.3 448.3,305.5 448.8,303.8 448.8,303.6 448.8,301.8 448.4,301.9 449.1,302.9 449.0,302.0 449.1,300.4 449.0,300.6 449.2,300.0 449.4,299.4 449.4,298.8 449.2,298.0 449.3,298.1 449.1,298.4 449.0,297.5 449.4,297.5 449.4,294.9 449.9,295.2 450.1,295.4 449.7,294.9 450.0,293.6 449.5,293.9 450.0,292.0 449.6,292.4 449.6,292.1 450.0,291.1 450.4,291.6 449.7,290.8 450.8,290.3 450.8,288.9 450.0,288.6 450.1,287.8 450.2,288.1 450.8,288.2 450.0,287.7 450.7,286.0 450.1,286.9 450.3,285.0 450.5,285.8 451.3,285.6 451.2,284.9 450.9,282.5 450.6,282.2 450.6,281.8 450.9,281.2 450.9,282.2 451.0,281.1 451.4,280.0 451.4,280.1 451.3,279.6 451.1,280.5 451.6,280.1 451.8,281.2 451.6,281.0 451.1,282.5 451.8,281.8 451.1,283.2 451.5,283.2 452.1,284.2 451.3,285.0 452.0,285.2 452.4,285.5 452.1,285.0 451.7,286.1 451.9,287.0 451.6,288.0 451.6,287.4 452.2,287.4 452.0,289.7 452.5,289.2 451.9,290.6 452.7,289.5 452.3,291.1 452.6,290.8 452.8,292.2 452.8,293.5 452.7,293.4 452.4,292.9 452.5,294.7 452.8,293.9 453.2,295.0 453.2,295.7 453.0,295.6 453.2,296.4 453.0,296.8 453.0,297.1 453.0,297.9 453.0,297.3 453.5,296.2 453.0,296.7 453.4,296.8 453.0,295.3 454.0,295.5 453.6,294.4 453.8,292.7 453.6,292.8 454.5,292.2 454.0,292.5 454.6,292.2 454.3,291.1 454.3,291.3 454.7,290.4 454.8,290.6 454.7,291.3 454.7,291.5 454.8,291.6 455.3,292.4 455.0,294.1 455.1,293.5 455.4,293.2 455.6,294.5 456.1,294.6 455.9,296.5 456.3,296.0 456.0,297.2 456.9,296.4 456.9,297.2 456.6,296.9 456.5,297.9 456.6,299.7 457.5,299.0 457.4,299.5 457.3,299.9 457.6,300.8 457.5,301.3 457.6,301.2 457.7,300.3 458.0,299.8 458.0,298.9 457.6,298.2 458.6,298.6 457.6,297.2 458.3,297.4 458.9,297.9 457.9,297.1 459.0,296.5 459.1,295.2 458.8,295.4 459.1,295.0 459.2,293.6 459.3,293.7 459.6,292.6 459.3,293.4 459.5,292.5 458.9,290.7 459.3,291.4 459.2,290.8 459.4,289.7 459.7,289.6 459.7,290.2 460.1,291.5 459.7,290.1 460.6,291.7 460.7,292.5 460.0,292.1 460.2,292.8 460.4,294.3 461.2,293.2 461.4,295.5 460.8,295.7 461.5,295.8 461.1,296.0 461.3,296.3 461.5,295.6 461.4,294.7 461.1,295.4 461.3,294.8 461.5,294.4 461.4,292.4 461.8,292.3 461.4,292.3 461.7,292.8 462.0,291.3 461.8,291.2 461.5,290.0 462.1,291.0 462.1,288.8 462.6,289.7 461.8,288.2 461.6,288.6 461.9,288.3 462.5,287.7 462.4,285.9 461.9,286.3 462.0,285.6 462.6,284.6 462.5,284.6 462.5,285.1 462.3,285.3 462.6,285.7 462.3,286.2 462.9,287.7 462.3,287.7 462.5,287.3 462.4,288.9 462.1,290.0 462.4,289.3 463.1,289.3 462.2,290.5 462.4,290.7 462.7,292.6 462.6,291.0 462.5,293.4 462.6,292.0 462.4,292.9 462.5,293.6 462.9,295.1 462.2,294.2 463.1,296.4 463.1,295.3 463.0,295.6 463.0,296.4 463.2,298.4 462.8,298.6 463.3,299.5 463.0,299.3 462.7,300.0 462.5,300.0 462.4,299.6 463.1,300.9 462.6,302.6 462.7,302.1 462.9,301.8 463.5,303.6 463.4,303.1 463.4,305.0 463.4,303.8 462.6,304.1 462.5,306.0 462.5,306.0 462.8,307.1 462.5,307.5 463.5,307.1 462.9,308.6 462.8,309.3 463.6,308.4 463.0,308.7 463.1,309.8 463.6,311.0 463.6,311.7 463.5,311.3 463.3,311.1 463.0,313.5 463.7,312.3 463.1,313.3 463.3,314.2 462.9,315.3 463.1,315.6 463.4,316.5 463.2,316.2 463.4,316.0 462.9,317.5 463.4,317.9 463.4,317.6 463.5,318.7 463.5,319.1 463.5,319.1 463.3,320.0 463.2,320.5 463.4,320.9 463.1,322.0 463.0,322.6 463.2,322.9 463.5,322.4 463.3,322.9 463.5,323.5 463.5,324.0 463.1,325.4 463.3,326.5 463.4,325.4 463.8,327.3 463.5,327.5 463.4,328.5 463.4,326.9 463.1,328.5 463.8,328.4 463.6,329.2 463.6,329.2 463.8,330.8 463.2,331.8 463.5,331.3 463.5,332.3 463.7,332.6 463.7,332.9 463.4,334.5 463.8,333.5 464.3,333.9 464.2,334.7 463.5,335.5 463.7,335.2 464.5,337.3 464.0,337.5 464.2,336.9 463.7,338.0 463.8,338.8 464.2,338.3 464.3,340.1 464.1,340.5 464.1,339.7 464.2,340.7 464.2,341.3 464.5,340.8 464.6,339.9 464.2,339.0 463.9,339.7 463.9,338.2 464.3,339.3 464.1,336.7 464.7,337.8 464.1,337.8 464.9,337.3 464.9,336.0 464.8,334.5 464.8,334.6 464.5,334.0 464.2,334.6 465.0,332.3 464.8,331.8 464.8,331.7 465.3,331.5 464.9,330.9 465.3,329.8 464.7,329.8 465.2,329.7 465.4,329.1 464.6,328.9 464.6,327.7 465.1,328.1 464.8,326.8 465.2,326.9 465.2,326.8 465.0,325.3 465.0,325.8 465.3,325.0 465.4,324.1 465.2,323.8 465.7,323.4 465.6,322.3 465.0,322.0 465.6,321.9 465.9,322.3 465.7,322.2 466.0,321.4 465.1,319.8 465.2,319.8 465.6,318.1 465.2,318.5 465.8,317.9 465.7,317.9 465.9,317.6 465.7,315.8 466.2,315.0 465.5,314.9 465.9,315.4 465.4,314.6 466.0,314.5 465.4,314.1 465.7,312.9 465.5,313.4 466.1,312.9 466.0,310.7 465.9,310.2 465.6,311.4 465.5,309.9 465.6,310.3 466.7,308.1 466.0,309.6 466.0,307.8 466.6,308.3 466.2,307.4 466.4,306.5 466.3,306.2 466.1,306.5 466.6,308.0 466.4,307.5 466.4,308.5 466.1,309.7 467.2,308.2 466.2,309.3 466.4,310.9 467.2,310.9 467.4,310.6 466.6,311.5 467.0,311.6 467.5,313.3 466.9,312.6 467.0,313.5 467.4,314.9 467.8,313.9 467.1,315.1 467.7,315.7 467.5,316.3 467.6,316.1 467.5,315.2 467.7,315.0 467.9,314.0 468.0,313.8 468.0,313.5 467.7,313.5 467.3,311.9 467.7,312.5 467.4,311.9 467.3,310.5 467.8,310.8 467.9,310.6 468.1,309.1 467.9,308.6 468.3,307.9 467.6,307.2 467.7,308.0 468.2,306.2 468.0,307.2 468.6,305.2 468.6,304.3 468.7,304.4 468.7,303.3 468.4,304.8 468.6,303.5 467.9,302.2 468.8,303.2 468.0,301.5 468.4,300.9 468.0,301.7 467.9,300.7 468.3,299.8 468.8,299.9 468.8,297.7 468.8,299.0 468.0,297.2 468.8,298.2 468.6,297.8 468.1,295.8 469.0,296.6 468.3,295.5 468.6,295.4 468.6,293.9 469.0,294.3 468.6,293.9 468.5,292.9 468.5,292.0 468.8,290.9 468.7,291.0 468.7,290.9 469.4,291.2 468.7,289.1 468.6,290.2 469.2,289.3 469.4,288.2 468.8,287.2 469.0,287.8 468.9,286.8 468.9,286.1 469.2,286.0 469.2,285.4 469.5,285.6 469.1,285.6 469.0,285.8 468.9,286.4 469.5,287.7 470.0,288.3 469.2,288.0 469.9,290.4 470.0,289.1 469.6,290.1 469.8,290.2 469.5,290.1 470.4,292.8 470.5,291.9 470.3,292.0 469.7,292.0 470.0,294.2 470.3,293.8 470.3,294.6 470.3,294.1 470.2,293.5 470.6,293.0 470.7,292.9 470.1,292.7 470.6,291.5 470.2,291.4 470.2,290.5 470.1,289.9 471.0,289.8 470.6,289.4 470.7,288.8 470.3,287.4 470.7,288.6 471.0,287.0 470.4,286.8 470.2,286.1 471.0,286.7 470.3,284.4 470.7,284.8 471.3,283.1 470.4,283.5 471.1,281.9 470.7,283.1 470.8,281.3 470.4,282.2 470.9,281.1 471.1,281.2 470.8,279.7 471.4,278.5 471.3,279.0 471.0,278.0 471.5,277.6 470.8,276.5 471.5,277.8 470.6,275.7 470.9,274.9 471.1,276.4 471.4,275.0 471.7,274.1 471.0,273.5 471.3,273.5 470.8,273.0 471.8,273.4 471.4,272.9 471.3,271.5 471.5,270.3 471.4,270.5 471.1,270.0 471.0,269.9 471.0,268.9 470.9,268.6 471.0,268.8 470.9,268.3 471.3,268.1 471.3,265.7 471.7,265.5 471.8,265.5 471.4,265.2 471.4,264.1 471.3,263.6 471.5,263.1 471.6,262.9 471.7,262.6 471.7,262.0 471.8,261.6 471.7,261.4 471.5,260.2 471.4,260.6 472.0,259.4 472.0,259.1 472.1,259.2 471.6,257.6 471.7,258.5 471.7,256.7 471.3,256.3 472.3,255.8 472.1,256.5 472.3,255.6 471.8,254.1 472.3,254.8 472.1,252.5 472.0,253.5 471.4,252.1 471.8,251.5 471.4,250.7 471.8,249.9 472.2,250.4 471.6,249.5 471.7,249.8 472.1,248.9 472.1,248.8 472.2,248.6 472.2,246.4 471.7,246.1 472.3,245.8 472.4,245.7 471.5,246.1 471.6,244.8 471.9,244.9 472.0,244.5 472.3,244.8 472.1,242.9 472.0,242.2 472.3,242.2 472.2,242.4 472.2,242.1 472.0,241.1 472.4,240.1 472.4,239.1 471.6,240.0 472.1,239.8 472.1,237.5 471.6,238.6 471.8,236.3 472.1,237.2 472.1,235.0 472.4,236.1 471.9,236.2 472.1,235.3 471.6,233.7 472.4,234.1 472.3,233.6 471.6,233.6 471.6,231.6 471.9,231.7 471.8,231.0 471.8,230.3 472.0,229.5 472.4,228.9 472.0,229.8 472.1,229.3 472.1,228.2 472.2,227.6 472.4,227.1 472.2,226.7 472.4,226.2 472.2,226.1 472.5,224.5 472.3,225.1 472.3,224.0 472.5,223.1 472.3,222.6 472.7,223.4 472.3,222.9 472.4,222.1 472.1,221.9 472.6,222.0 472.2,220.0 472.8,219.1 472.8,220.1 472.1,219.3 472.3,217.7 472.4,218.5 472.7,217.0 472.8,217.6 472.3,217.2 472.6,216.1 473.0,214.6 472.6,215.3 472.1,214.0 472.7,213.7 472.7,214.1 472.3,213.4 472.5,211.2 472.7,210.9 472.7,210.5 472.7,209.9 473.4,209.6 472.8,210.1 473.1,208.4 473.3,208.5 472.4,208.1 473.1,207.5 473.2,206.9 473.3,207.9 473.3,205.2 472.9,205.9 472.9,204.5 473.1,203.9 472.7,204.1 473.6,203.6 473.6,203.8 473.3,203.9 473.2,203.0 473.1,202.6 473.5,200.3 473.6,200.0 473.3,199.6 473.4,199.8 473.0,199.9 473.1,199.4 473.2,198.5 473.3,197.9 473.3,198.7 473.3,198.9 473.2,199.1 473.1,199.4 473.3,200.8 473.2,200.1 474.1,201.7 473.2,202.8 474.0,202.7 474.2,203.0 473.4,202.1 473.3,203.8 473.9,205.2 473.4,203.8 473.5,205.0 474.4,206.6 473.5,206.6 473.7,206.2 473.9,206.7 473.9,207.1 474.0,208.6 474.3,209.4 474.0,208.1 474.4,209.4 474.0,210.1 474.9,211.1 474.7,210.2 474.5,212.3 474.9,213.0 474.0,214.1 474.1,214.0 474.6,214.9 475.2,214.9 474.3,215.2 474.4,215.1 474.5,215.4 474.5,216.4 474.6,216.4 475.1,217.0 475.0,218.2 475.0,218.3 475.1,219.1 475.3,219.0 474.8,220.5 475.3,220.0 475.4,220.1 474.9,222.0 474.7,222.5 474.8,222.9 474.7,222.8 475.2,223.4 475.6,222.6 475.4,225.1 475.2,224.1 475.5,225.1 474.9,226.4 475.5,227.1 475.2,225.5 474.7,227.4 474.8,228.0 474.9,228.9 474.8,229.2 475.0,230.5 475.3,229.8 475.7,229.7 475.9,230.2 474.8,230.7 475.2,231.9 474.9,233.2 475.7,233.3 476.0,232.1 475.6,234.6 475.1,234.0 475.1,235.7 475.4,236.0 475.2,235.9 475.8,235.8 475.3,235.6 475.7,236.9 475.2,237.2 475.4,237.2 475.7,237.8 475.3,238.8 476.1,240.2 475.3,241.0 476.1,240.2 476.0,241.5 475.7,242.6 475.8,242.5 476.1,242.5 475.3,242.0 475.9,243.6 476.0,245.0 475.5,244.1 475.8,244.4 475.5,245.0 475.7,246.0 475.6,246.8 475.8,247.1 476.0,247.0 476.0,246.5 476.2,246.0 475.9,245.3 476.5,244.1 476.0,242.9 476.4,242.7 476.3,242.4 476.0,243.6 476.3,243.3 476.8,241.9 476.6,241.6 477.0,239.9 476.8,239.7 476.4,239.0 477.2,240.3 476.8,237.9 476.6,237.8 476.9,238.7 477.1,237.3 477.3,236.0 477.1,236.1 476.8,235.3 477.4,235.6 477.2,233.8 477.6,233.5 477.0,235.0 477.9,234.4 477.5,233.5 478.1,232.6 477.4,231.5 477.8,231.3 478.0,230.5 478.0,230.4 477.9,230.4 478.1,230.9 478.0,231.1 478.5,231.9 478.3,233.0 477.9,233.5 478.7,233.2 478.6,234.9 478.6,234.5 478.6,235.8 478.5,236.5 478.9,237.0 478.6,236.0 478.4,236.9 478.9,236.8 478.7,237.5 479.0,238.1 479.3,238.3 478.9,240.5 479.5,240.1 479.6,241.8 479.3,240.9 478.9,242.3 478.8,242.7 479.1,242.1 479.6,243.1 479.0,243.0 479.9,244.1 479.9,245.1 479.1,244.9 479.8,245.2 479.3,247.6 479.6,247.2 479.8,248.5 479.6,246.7 480.1,248.7 480.3,248.0 479.8,249.3 480.0,249.2 480.0,249.7 480.2,250.4 480.3,251.3 480.1,250.4 480.5,250.5 480.3,250.2 480.1,249.2 480.8,248.1 480.2,248.3 480.4,247.0 480.9,248.0 480.7,246.7 480.7,246.4 480.8,245.4 481.1,245.4 480.5,245.1 481.1,244.4 480.7,244.0 481.1,242.6 481.4,242.7 480.9,242.4 481.3,241.1 480.7,241.4 480.6,240.7 480.7,239.7 481.0,240.9 481.3,238.9 481.4,239.0 480.7,238.3 481.5,238.7 481.9,236.2 481.4,236.7 481.4,237.2 481.4,236.1 481.8,236.4 481.6,235.0 481.1,234.2 481.3,234.7 481.8,232.6 481.8,233.9 482.1,232.2 481.6,232.1 481.7,232.7 482.2,232.0 482.4,229.5 482.4,229.7 481.7,229.8 481.9,228.3 482.5,227.7 481.6,227.8 482.4,228.3 482.1,226.8 481.8,227.3 482.5,225.4 482.4,226.4 482.2,224.6 482.5,224.8 482.3,223.3 482.3,223.9 482.3,223.1 482.6,222.4 482.5,222.1 482.3,222.8 482.8,223.3 483.1,223.3 482.7,223.9 483.2,224.1 482.5,224.7 483.2,226.1 482.6,226.8 483.5,226.1 483.4,227.5 483.2,226.8 482.6,228.9 483.0,229.3 483.7,229.9 483.6,230.0 483.7,231.1 483.9,231.4 483.3,232.0 483.1,230.7 483.9,232.0 483.9,232.2 483.7,232.9 483.5,232.0 483.9,232.2 483.7,231.6 483.5,231.5 483.6,229.9 483.8,229.8 483.8,229.8 483.6,229.5 483.7,228.2 484.3,228.4 484.1,228.1 483.8,226.5 484.0,227.2 483.6,226.4 483.9,226.5 484.2,225.9 483.9,224.3 483.7,223.1 483.8,222.6 484.2,223.0 484.3,223.0 484.6,221.9 484.2,221.4 484.1,220.4 483.9,219.9 484.2,219.7 484.2,219.8 484.7,219.0 484.8,217.9 484.4,218.0 484.2,217.2 484.0,218.0 483.8,217.1 484.3,215.4 484.1,216.4 484.2,215.0 484.3,214.7 484.4,213.9 484.0,212.1 484.6,211.5 484.5,211.7 484.7,211.3 484.0,210.4 484.3,211.2 484.7,211.1 485.0,209.9 484.0,209.7 484.4,209.0 484.2,208.0 484.3,208.2 485.1,206.9 484.6,207.1 484.9,205.9 484.4,206.1 484.5,205.2 484.8,204.9 485.2,203.9 484.4,203.5 485.2,204.2 484.3,201.9 484.5,202.9 485.0,200.9 485.1,202.1 485.1,200.4 485.1,199.7 485.2,199.0 484.8,198.9 485.1,199.1 484.9,198.3 484.8,197.8 484.7,197.5 485.2,196.7 485.0,196.2 485.0,196.8 485.0,197.8 484.9,197.7 485.3,198.7 485.0,197.8 485.5,198.2 485.7,198.4 485.8,201.0 485.4,201.7 485.8,201.6 485.2,200.6 485.1,201.1 485.8,203.1 486.1,202.8 485.5,204.5 486.0,205.3 485.2,205.8 485.7,205.9 485.5,205.7 486.2,206.7 486.2,205.5 486.4,205.9 486.4,207.7 486.2,207.4 486.4,209.2 485.9,210.2 486.1,210.5 486.0,209.7 486.0,209.4 485.9,210.2 486.4,211.5 486.0,213.1 486.6,212.6 486.3,212.9 486.9,213.4 486.6,214.6 486.6,214.9 486.7,215.0 486.5,215.7 486.6,215.7 486.6,217.1 487.2,217.5 486.9,216.7 487.0,218.9 487.3,217.3 487.6,220.1 487.2,218.3 487.4,220.3 486.7,220.3 486.7,219.9 487.5,222.1 487.1,221.1 487.1,221.8 487.5,222.4 487.9,222.2 487.2,224.3 487.5,223.4 487.5,224.4 488.0,224.8 487.9,226.4 487.7,225.3 487.8,226.0 487.6,228.5 487.5,229.1 487.6,227.3 487.5,229.8 488.5,228.9 487.9,229.5 488.3,229.9 488.1,231.3 488.0,230.5 488.4,232.3 487.8,232.3 488.7,233.2 488.6,234.6 488.1,233.7 488.1,235.4 488.6,235.7 488.7,235.1 488.8,235.5 488.7,236.6 488.9,236.6 488.9,237.4 488.8,237.9 488.9,236.9 488.9,236.3 489.0,236.9 488.9,235.8 489.1,235.5 489.5,235.7 489.3,234.0 488.6,234.3 488.8,233.9 489.4,233.8 488.7,232.3 489.1,231.5 489.0,232.2 489.3,231.0 489.0,230.5 489.6,228.9 489.3,228.8 489.6,227.8 490.1,228.1 490.0,226.7 489.9,228.3 489.6,226.5 489.8,225.9 489.4,226.9 489.9,225.3 489.8,225.6 490.1,223.8 489.7,223.6 489.4,223.1 489.5,223.2 489.8,221.9 489.7,221.2 489.8,222.2 490.1,220.9 490.0,221.2 490.3,219.3 490.3,218.6 490.5,219.1 490.3,218.3 490.2,217.7 490.7,217.8 490.8,217.0 490.2,216.7 490.7,214.9 490.2,215.4 491.2,214.4 491.0,213.3 491.3,214.8 490.7,213.9 491.3,212.7 491.5,211.2 490.9,210.9 491.6,212.0 491.0,211.3 491.4,210.5 491.3,210.0 491.5,208.9 491.4,208.0 491.8,209.2 491.4,208.1 491.6,206.6 491.4,205.9 492.0,205.8 491.8,205.9 492.0,205.4 491.9,206.0 492.1,206.0 492.3,207.2 492.7,207.0 492.6,208.2 492.4,207.2 492.2,208.7 492.0,208.4 492.9,208.9 492.7,209.8 492.7,210.7 492.4,211.3 492.5,213.1 492.8,211.5 493.1,212.1 493.2,214.2 493.5,214.0 493.3,215.2 493.5,215.2 493.6,216.1 493.1,215.6 493.7,217.6 493.2,218.1 493.7,218.0 493.3,217.5 493.3,218.8 493.6,218.6 493.5,219.9 493.7,220.0 493.6,219.9 494.1,219.9 494.1,220.6 494.7,222.0 494.5,222.2 494.1,223.6 495.3,222.0 495.1,224.4 495.5,225.3 495.8,225.6 495.1,226.3 496.0,225.8 495.8,226.0 496.1,226.2 495.9,226.4 496.0,228.5 496.3,227.9 496.0,227.8 496.2,228.5 496.3,229.7 496.3,230.2 496.4,230.5 496.6,231.9 497.1,231.7 497.0,231.5 496.5,232.0 496.5,233.7 497.4,233.9 496.7,233.1 497.4,234.7 496.8,236.2 497.6,236.7 497.9,236.7 497.9,237.6 497.2,236.6 497.6,237.8 497.3,237.5 498.0,239.4 497.8,239.7 498.1,240.0 498.0,240.0 497.9,240.4 498.2,241.5 498.4,240.9 498.4,241.1 498.1,241.5 498.4,242.1 498.6,243.3 498.8,243.6 499.1,243.6 498.2,245.0 498.7,246.4 498.2,245.2 498.5,246.4 499.2,247.4 498.7,247.3 499.3,248.2 498.6,248.2 498.6,248.9 498.9,249.1 499.1,251.0 498.9,249.6 499.0,250.9 499.4,252.6 499.8,251.5 499.2,252.7 500.0,252.4 500.0,253.2 500.3,255.2 499.5,255.3 500.0,254.8 500.0,256.4 500.0,256.2 500.1,255.9 500.3,256.6 500.2,257.6 500.6,256.3 500.5,256.0 500.7,256.4 500.8,256.4 501.2,254.2 500.5,254.6 501.3,253.9 500.6,253.7 500.8,252.1 501.5,252.6 501.5,251.5 501.3,251.7 501.3,250.8 501.6,250.6 501.5,249.5 501.4,249.5 501.7,248.7 502.0,248.3 501.6,248.2 501.5,246.6 501.2,248.3 502.3,247.0 501.4,245.5 501.6,244.6 501.7,244.7 501.7,245.6 502.0,245.5 501.8,242.7 502.3,243.8 502.4,242.5 502.5,241.3 502.4,242.3 502.3,241.6 502.2,240.6 502.3,240.6 502.7,239.4 502.5,239.0 502.1,239.3 502.0,239.3 502.0,237.0 502.9,237.2 502.4,236.8 503.1,236.7 502.6,237.0 502.5,234.3 503.1,235.6 503.2,234.1 503.1,233.2 502.7,234.4 503.3,233.8 503.1,232.8 503.0,231.7 503.4,231.7 503.4,230.5 503.2,230.4 503.2,231.3 503.5,231.8 503.6,231.5 503.5,231.7 503.4,232.0 503.4,232.8 503.4,234.2 503.7,235.2 504.0,234.4 503.4,235.1 503.4,236.7 504.0,236.7 503.9,236.3 503.5,238.0 503.4,239.0 503.4,237.6 504.2,239.8 503.5,240.4 504.0,238.9 504.1,239.6 504.2,241.1 504.4,242.3 504.5,242.2 504.4,243.2 504.6,242.8 504.7,244.4 503.9,243.0 504.4,244.4 504.3,244.7 504.1,245.0 504.5,246.4 504.7,245.2 504.2,246.7 504.9,246.7 504.9,247.0 504.4,249.1 504.3,249.5 504.8,248.0 504.7,249.8 504.4,249.9 504.8,250.6 505.3,250.9 505.4,251.2 505.2,251.3 505.1,253.3 505.4,252.1 505.3,252.9 505.6,253.7 505.5,254.0 505.6,255.2 505.0,256.3 505.5,256.4 505.3,256.3 505.4,257.5 505.4,257.6 505.6,257.3 505.3,256.6 505.5,256.2 505.9,255.8 505.3,254.7 505.6,254.5 505.7,253.4 505.7,253.7 506.5,252.5 506.7,253.1 506.7,253.2 506.6,252.7 506.1,251.6 506.3,249.9 506.3,250.6 506.2,248.8 507.1,250.1 506.3,248.1 506.3,248.4 507.5,247.0 507.1,247.2 507.4,247.1 507.4,245.4 507.8,246.6 506.9,244.2 507.8,245.6 507.4,245.5 507.7,243.9 507.2,243.4 507.6,242.8 507.7,243.2 507.8,241.2 507.8,242.0 508.1,240.8 508.3,241.0 508.2,240.0 508.2,239.1 508.2,238.5 508.6,238.8 508.3,238.3 508.8,238.5 508.2,236.9 508.8,236.3 508.7,235.9 508.6,235.7 508.7,234.5 508.7,235.2 508.5,233.9 508.7,234.5 508.5,232.6 509.6,233.0 508.8,232.6 509.2,230.4 508.8,229.8 509.1,230.2 509.9,230.9 509.5,229.9 509.6,229.7 509.4,228.8 509.3,227.3 509.4,227.2 509.5,227.2 509.3,226.0 509.9,226.7 510.2,225.3 510.1,223.7 510.5,224.8 510.4,222.9 510.0,222.9 510.5,223.6 509.8,223.6 510.0,221.0 510.4,221.3 510.9,219.8 510.8,220.9 510.4,219.2 510.7,218.6 510.5,218.3 510.6,219.1 510.9,218.0 510.8,217.4 510.9,218.0 511.1,218.9 511.3,219.7 510.9,220.3 510.8,219.0 511.3,219.2 511.6,222.0 511.5,220.7 511.3,220.7 511.2,223.1 511.0,221.9 511.2,222.9 511.2,223.3 511.0,224.6 511.5,225.1 511.4,226.3 511.9,225.9 511.5,227.1 511.7,226.5 511.8,226.1 511.8,226.7 512.3,228.9 511.5,228.0 512.1,229.3 511.9,229.5 511.8,230.0 511.6,229.6 511.9,230.0 511.9,230.9 512.1,232.4 512.7,233.0 512.6,233.2 512.6,233.8 512.2,234.0 512.5,234.6 512.3,234.4 512.5,233.5 512.3,234.3 512.5,231.8 512.7,231.7 512.5,232.2 512.9,230.0 513.5,229.8 513.5,231.5 513.2,230.4 512.7,228.5 513.6,229.3 512.9,227.7 512.9,228.6 513.6,227.0 513.6,226.9 513.4,226.4 513.3,226.2 513.7,225.4 513.9,225.5 513.7,226.5 513.9,227.3 513.7,227.8 513.7,228.4 513.9,228.6 514.3,228.2 513.9,229.1 513.5,230.6 513.6,229.6 513.6,231.6 514.3,231.0 514.1,231.6 514.1,231.3 513.9,234.1 514.0,233.9 514.3,233.8 514.3,234.9 514.3,235.6 514.0,234.8 514.3,236.7 514.3,235.2 514.3,237.9 514.0,237.6 514.2,238.1 514.7,238.0 514.1,238.8 515.0,238.3 514.3,239.3 514.5,241.2 514.6,241.2 514.3,241.5 514.9,241.5 514.1,243.6 514.7,244.1 514.8,243.1 514.4,245.0 515.1,244.7 514.3,244.5 514.7,244.5 514.8,245.9 514.6,246.5 515.4,247.9 515.3,247.0 514.7,247.9 515.4,247.9 514.7,249.7 514.7,249.5 515.4,250.1 514.8,250.2 515.3,251.2 515.0,251.5 515.2,252.0 515.2,252.1 515.0,252.7 515.2,254.3 515.2,254.8 514.9,254.4 515.0,253.9 515.2,255.9 515.6,255.4 515.8,256.9 516.0,257.4 515.2,258.1 516.2,258.8 515.9,257.5 516.1,258.9 516.0,260.4 515.5,258.7 516.3,261.3 515.4,260.8 516.3,261.6 516.0,263.1 515.5,262.0 515.7,264.0 516.2,262.8 516.5,264.8 516.1,265.3 515.9,265.2 516.6,264.9 516.4,266.2 516.3,266.3 516.8,265.4 516.6,264.4 517.0,265.8 517.0,265.4 517.2,263.9 517.8,264.3 518.3,262.7 518.0,263.1 518.3,262.1 518.5,263.0 518.3,263.7 518.7,263.8 518.4,264.6 518.2,265.2 518.6,265.7 518.9,265.2 518.6,266.1 518.5,266.0 519.1,266.3 519.5,267.6 518.9,267.3 518.9,268.3 518.8,268.6 519.8,270.6 519.8,271.1 519.6,271.7 519.6,270.8 519.2,271.9 520.1,273.1 520.2,272.4 519.9,274.2 520.0,274.2 520.1,274.1 520.1,274.3 520.0,275.0 520.2,275.4 519.9,276.5 520.3,276.8 520.1,276.5 520.5,277.9 520.4,278.8 519.7,279.3 520.6,278.2 519.8,280.4 520.0,280.2 520.8,279.9 520.3,280.0 520.8,282.4 520.3,282.8 520.0,283.3 520.8,283.7 520.0,283.1 520.7,284.9 520.5,285.1 520.5,285.3 520.4,284.9 521.0,286.3 520.5,286.2 520.5,287.2 520.4,287.6 520.6,288.0 520.7,288.2 520.8,289.2 521.4,289.3 521.5,291.2 521.3,290.2 521.8,292.1 521.9,291.9 521.6,291.5 522.2,292.7 522.5,292.9 522.5,292.6 522.8,291.6 522.6,290.8 522.4,291.0 522.9,289.7 522.9,290.2 523.0,288.3 522.7,288.0 523.0,288.8 522.4,289.0 523.2,287.1 522.4,287.5 522.6,287.2 522.6,286.7 522.7,285.5 522.6,285.1 522.4,284.0 522.7,284.0 523.2,283.3 523.4,282.0 523.2,282.0 522.6,281.4 522.8,281.2 523.0,281.5 523.3,280.0 523.3,280.0 522.6,280.0 523.5,279.1 523.1,279.2 523.7,277.9 522.7,277.3 522.9,276.7 523.3,275.6 522.8,275.7 523.4,275.3 523.5,275.4 523.5,274.0 523.3,273.7 523.3,274.3 523.2,275.4 523.7,276.0 523.4,275.7 523.6,275.3 523.3,277.1 524.1,276.2 523.5,277.7 523.6,277.7 523.4,278.3 523.3,278.7 523.4,280.6 524.1,280.2 523.8,281.2 523.8,282.1 524.4,281.1 524.1,281.9 524.7,282.1 523.7,282.6 524.7,284.1 524.5,284.2 524.6,284.6 524.4,285.6 524.7,286.8 524.6,287.1 524.2,286.2 524.9,286.5 524.6,287.4 524.7,288.1 524.7,288.8 524.9,287.9 524.9,288.4 524.7,287.7 524.9,286.3 524.8,285.6 524.7,284.9 524.5,286.2 524.9,285.6 524.9,283.8 524.9,283.4 525.5,282.2 524.7,282.1 525.0,282.0 524.6,282.0 525.5,281.4 524.9,280.8 524.8,279.2 524.9,279.5 525.5,279.0 525.6,277.8 525.0,277.5 525.6,277.0 525.3,277.3 525.6,276.8 525.1,277.3 525.3,274.9 525.4,275.3 525.0,273.6 525.4,274.8 525.3,274.1 525.2,273.8 525.8,272.8 526.0,272.0 525.4,270.5 525.4,271.9 525.9,270.6 525.6,270.5 525.2,269.8 526.0,268.5 525.4,268.7 525.8,268.0 525.7,268.3 526.0,267.7 525.8,266.7 525.7,266.0 525.8,266.3 526.1,265.3 525.7,265.3 526.7,263.6 526.0,262.6 526.7,262.6 526.0,263.7 526.7,262.1 526.3,262.9 526.4,261.9 526.8,260.5 527.3,260.1 526.6,259.2 526.4,259.2 527.5,259.4 526.9,257.9 527.5,258.6 527.0,256.8 527.0,257.6 527.3,256.8 527.6,256.6 527.5,254.2 527.7,254.3 528.0,254.6 527.9,254.4 528.2,254.2 528.3,253.7 527.7,253.0 527.9,252.5 528.1,251.6 527.9,250.5 528.0,250.0 528.3,250.0 528.6,250.0 528.4,248.9 528.6,248.9 528.2,249.1 528.2,246.6 529.1,246.6 529.1,246.7 529.0,246.1 529.4,245.3 529.5,245.3 529.7,243.6 529.1,242.9 528.9,243.7 529.5,242.3 529.3,241.9 530.2,242.3 529.7,241.8 529.8,241.1 529.5,241.8 530.2,240.7 530.6,238.7 529.8,238.5 530.0,237.9 530.3,238.9 530.6,238.1 530.6,237.9 530.9,236.2 530.8,236.2 531.0,237.3 531.2,237.3 531.0,236.8 530.9,237.2 530.8,239.3 531.4,238.8 531.7,239.2 532.0,239.5 531.3,239.9 532.2,242.1 531.5,242.7 531.4,242.6 531.9,241.9 532.2,242.4 532.2,244.2 532.2,245.1 532.8,243.8 532.1,243.8 532.4,244.5 532.4,245.1 532.7,246.0 533.1,247.5 532.8,247.6 533.0,248.0 532.8,248.0 533.3,248.5 533.0,249.1 532.9,249.5 532.9,251.3 533.0,251.3 533.0,252.5 533.7,252.0 533.8,253.1 533.8,253.1 532.9,252.5 533.8,255.1 533.4,255.5 533.9,254.6 533.8,256.2 533.8,255.4 533.1,256.1 533.4,257.1 533.5,257.3 533.5,257.2 533.5,258.9 533.5,260.0 534.2,259.4 533.6,260.4 534.3,261.3 533.6,260.4 533.5,262.6 533.7,261.8 534.3,262.1 534.3,261.9 534.0,262.4 534.5,263.5 534.5,265.2 533.8,264.6 534.6,266.0 534.2,265.2 533.9,266.2 534.3,267.4 534.8,268.0 534.5,268.2 534.6,267.6 534.1,269.2 534.5,270.3 534.4,269.8 534.4,270.8 534.8,270.6 534.6,271.8 534.7,272.1 534.8,271.9 534.6,271.4 534.7,271.1 534.6,270.6 535.1,269.8 534.6,268.8 534.8,269.4 534.6,267.9 534.8,267.7 535.2,266.0 534.7,265.6 535.0,266.5 535.4,266.2 534.7,266.3 534.6,263.9 535.3,264.5 535.0,264.1 535.1,262.7 535.0,262.5 534.8,262.7 534.9,261.8 535.7,261.9 535.7,259.9 535.7,259.0 535.1,259.1 535.6,260.3 535.1,258.6 535.2,258.7 534.9,258.6 535.3,256.4 535.9,257.2 535.9,257.1 535.5,255.5 535.9,255.1 535.3,254.9 535.6,254.8 536.1,254.4 535.2,253.3 535.7,251.6 535.5,251.0 536.0,251.0 535.4,252.1 535.6,251.1 536.0,250.5 535.4,249.0 536.3,248.9 535.7,248.7 535.4,248.7 536.3,248.8 535.8,247.6 536.5,247.6 536.0,247.2 536.1,245.8 536.2,244.6 536.1,244.7 536.4,244.3 536.1,244.4 536.0,242.8 536.2,243.3 536.3,242.1 536.3,241.7 536.5,240.9 536.6,240.1 536.5,241.0 536.5,239.2 536.2,239.9 536.3,239.8 536.5,237.2 536.8,238.3 536.8,236.0 536.5,236.7 537.2,235.3 536.7,235.4 536.9,235.2 536.6,234.7 536.9,233.1 536.7,233.2 536.7,232.9 536.7,232.5 537.2,231.6 537.5,230.8 536.9,231.9 537.3,230.3 536.9,230.9 537.1,230.6 537.7,228.5 537.5,228.2 537.4,229.3 537.5,228.8 537.2,226.8 537.5,226.6 537.5,225.9 537.3,226.1 537.3,225.0 537.4,225.1 537.6,224.4 537.5,224.6 538.0,225.4 537.8,225.6 537.9,227.0 537.7,226.0 537.6,227.9 538.0,229.0 537.8,229.0 538.0,228.4 538.4,229.0 537.9,229.8 538.2,229.4 538.9,230.7 538.3,230.5 538.1,231.2 538.1,232.6 538.8,233.8 538.4,234.2 539.0,232.9 538.5,233.7 539.3,235.6 538.4,234.8 538.6,236.3 538.9,237.6 539.5,236.4 538.9,237.5 539.1,238.7 539.0,239.3 539.4,238.8 539.7,239.3 539.6,240.5 539.5,240.5 539.8,241.6 539.6,241.9 540.0,241.6 539.7,243.5 540.2,242.5 540.2,242.5 539.9,244.2 539.9,243.3 540.2,245.2 540.4,244.6 539.8,244.8 540.4,245.3 540.1,246.9 540.4,247.9 540.2,248.0 540.6,247.7 541.2,250.0 541.3,248.8 540.3,250.4 541.4,250.0 540.8,251.6 541.1,251.6 541.3,251.9 541.4,252.5 541.3,252.9 541.5,251.9 541.4,252.4 541.4,251.7 541.5,251.7 541.2,250.0 541.2,250.7 542.1,248.7 541.4,248.3 541.8,249.0 541.5,248.8 541.7,247.5 541.7,246.9 541.4,245.4 542.5,245.5 541.8,246.7 541.8,244.0 542.5,244.3 542.3,243.5 541.8,242.8 542.5,243.1 542.4,243.1 542.4,242.5 542.0,240.8 542.3,241.9 542.1,241.3 542.8,240.7 542.1,238.7 542.9,238.4 542.1,238.8 542.9,238.9 542.9,237.9 542.6,238.2 542.5,236.5 542.4,236.3 543.1,235.7 542.8,234.0 543.1,233.5 543.3,234.4 543.4,234.0 543.3,232.8 543.5,232.8 543.2,232.0 543.4,231.8 543.3,231.2 543.4,231.8 543.6,232.9 543.2,233.5 543.3,233.1 543.8,234.4 543.4,233.7 543.7,234.6 543.6,234.7 543.2,236.8 543.7,237.2 544.0,235.7 543.6,236.9 543.7,236.7 544.3,238.1 543.7,238.7 544.3,240.0 544.1,238.9 543.7,240.4 544.3,241.9 544.1,240.0 544.4,242.1 544.2,241.6 544.2,243.5 544.6,242.6 544.5,243.0 544.1,244.9 545.0,244.2 544.6,246.2 544.6,246.1 545.3,245.6 545.2,246.2 545.5,246.3 544.7,248.0 545.0,248.0 545.4,248.0 545.0,249.3 545.1,249.5 545.3,250.1 545.2,249.8 545.5,248.5 545.7,249.4 545.3,248.7 545.3,248.6 546.0,247.7 545.5,246.3 545.3,247.1 546.1,246.2 546.2,244.8 545.3,244.7 546.3,244.4 546.2,244.1 545.8,243.2 545.6,242.5 546.5,243.3 546.1,242.3 545.8,241.6 546.5,239.7 546.6,239.5 545.7,238.6 546.1,239.9 545.9,239.9 546.6,237.4 546.6,237.1 546.6,236.2 546.7,236.5 546.6,235.5 546.5,235.7 546.3,235.3 546.8,234.3 546.6,234.4 546.8,234.7 546.8,235.8 546.8,236.1 547.1,236.3 547.0,236.8 546.7,238.3 546.5,238.8 547.1,237.6 547.3,237.7 547.2,240.5 547.3,240.9 547.2,240.9 547.5,241.9 546.9,240.5 547.0,240.8 547.6,242.1 547.7,241.8 547.2,243.6 547.1,244.3 547.0,243.1 547.8,244.9 547.2,246.0 547.0,245.3 547.4,247.1 547.6,246.7 547.6,248.3 547.4,247.0 547.6,247.4 547.3,249.1 547.6,248.4 547.1,250.9 548.1,250.6 547.8,250.7 548.3,252.4 548.3,252.1 548.0,253.2 547.6,252.7 548.0,252.8 548.0,253.9 548.4,254.1 547.9,254.8 547.5,254.0 547.6,256.6 548.5,256.8 547.9,256.9 547.8,257.2 548.2,258.0 547.9,259.0 548.4,259.6 548.0,259.5 548.6,260.4 548.2,259.9 548.6,260.9 548.3,261.2 548.5,261.6 548.5,261.5 548.4,261.0 548.7,259.4 548.6,260.4 549.5,260.3 548.6,259.6 549.3,257.9 548.8,258.3 549.4,256.6 549.5,255.7 550.0,257.1 549.9,257.0 549.4,255.3 550.3,255.8 550.1,253.4 550.0,254.0 550.2,252.9 549.9,252.4 550.0,253.5 550.1,251.2 551.0,250.7 550.3,250.8 550.7,250.7 550.8,250.0 551.0,249.9 550.6,249.4 550.7,248.7 551.2,247.4 551.0,248.3 550.9,247.3 551.3,246.2 550.6,246.5 550.6,246.5 551.1,245.1 550.7,244.6 551.1,244.4 550.7,242.9 551.3,243.6 551.4,241.3 551.8,241.7 551.5,242.7 551.7,240.6 551.1,240.5 551.4,239.1 551.6,240.3 551.1,239.2 551.5,237.7 551.9,237.1 551.9,236.4 552.0,236.4 551.8,236.9 551.8,236.6 551.4,235.3 551.8,235.5 551.6,234.1 551.9,232.9 551.9,233.2 552.0,232.5 551.4,232.9 551.7,230.9 551.4,232.5 552.0,230.0 551.5,230.6 552.0,228.8 552.1,229.4 552.2,228.0 551.7,228.7 551.7,227.9 552.1,228.0 552.2,226.4 552.0,226.8 552.1,226.0 552.3,225.4 552.3,225.7 552.3,226.6 552.3,226.6 552.4,228.2 553.1,228.6 552.9,228.1 552.9,229.4 553.2,228.8 552.2,230.0 553.0,230.0 553.4,230.2 553.0,232.3 553.5,231.7 553.2,231.6 553.0,232.0 553.4,233.5 552.6,235.1 553.2,235.3 553.7,235.2 553.2,235.9 553.3,235.2 552.8,237.1 553.9,237.5 553.5,238.3 553.3,237.5 553.8,239.2 553.6,239.0 553.7,239.4 553.7,240.0 553.7,239.8 554.0,241.7 553.8,242.0 554.3,242.5 553.8,242.4 554.4,243.9 553.8,242.5 554.1,244.7 554.2,244.6 554.4,245.5 554.6,244.9 554.8,246.9 555.2,246.6 555.0,247.0 555.3,248.1 555.4,248.2 555.7,247.5 555.5,248.4 555.6,248.5 555.5,250.0 556.2,251.6 556.5,251.3 556.4,251.2 555.8,251.5 556.5,252.6 556.0,252.2 556.7,254.5 556.6,254.0 557.1,254.9 557.0,255.0 557.0,255.4 557.2,254.7 556.8,254.8 557.3,253.2 557.7,253.3 557.3,251.9 557.0,253.1 557.7,252.1 557.6,251.0 557.9,252.0 557.2,249.8 558.0,250.3 558.1,248.5 557.7,248.8 557.4,248.5 557.6,247.9 558.3,246.3 558.6,247.5 558.0,245.3 558.4,245.7 558.8,245.3 558.5,244.4 558.0,244.1 558.2,243.8 558.3,243.9 559.0,243.3 558.4,241.2 559.0,241.6 559.3,240.4 559.0,241.6 558.8,240.1 558.8,239.0 559.4,239.2 559.3,238.2 559.2,238.3 559.4,237.8 559.5,237.0 559.1,236.7 559.2,235.9 559.0,234.7 558.8,234.4 559.0,235.6 559.6,234.4 558.9,233.3 559.9,234.3 559.9,232.4 559.7,231.6 559.7,231.8 559.6,230.1 559.3,230.2 559.6,229.8 559.5,229.7 559.7,228.9 559.5,228.9 559.8,228.8 559.9,226.8 559.6,227.6 560.0,227.7 560.0,226.5 559.9,225.1 559.9,224.9 559.7,224.0 560.4,225.3 559.7,223.7 559.6,223.8 559.8,223.2 559.8,222.2 560.0,221.7 560.1,221.3 560.3,221.0 560.1,220.0 560.0,219.6 560.5,218.2 560.0,219.2 559.8,219.0 560.1,218.7 560.0,217.9 560.7,216.3 560.4,216.9 560.9,215.9 560.9,216.2 561.0,214.0 560.4,214.5 560.6,212.7 560.6,214.3 560.6,211.9 560.4,213.2 560.6,210.6 560.4,211.4 560.3,210.7 560.7,210.6 560.5,208.9 560.8,208.4 560.9,208.4 561.3,207.4 560.9,207.1 560.5,206.3 561.0,206.7 561.1,206.7 560.6,206.9 561.6,204.6 560.8,205.4 560.8,204.5 561.0,204.6 560.9,203.2 561.0,202.2 561.4,202.5 561.3,201.7 561.2,201.8 561.1,200.4 561.2,199.8 561.5,198.8 561.7,199.9 562.0,199.1 561.1,197.7 561.1,198.8 561.7,197.8 561.9,197.3 562.1,195.4 561.5,195.6 561.8,195.2 561.4,194.2 561.9,193.1 562.1,192.6 561.7,194.2 561.5,192.7 561.5,191.2 562.0,192.7 561.8,192.3 561.8,191.2 562.4,189.4 562.3,189.1 561.9,188.3 562.5,188.2 562.0,189.1 562.0,187.9 562.3,188.0 562.1,187.7 561.9,187.5 561.7,186.5 562.3,186.2 562.0,183.7 562.6,184.0 562.2,184.4 562.5,182.7 562.5,182.8 562.2,182.2 562.5,181.7 562.6,180.7 562.9,180.5 562.7,179.8 562.6,181.0 562.6,179.2 562.5,178.5 562.6,179.5 563.3,176.9 563.2,178.3 563.1,178.0 562.7,177.4 563.3,176.3 563.0,175.9 563.6,174.0 562.6,174.7 562.8,174.7 563.5,174.1 563.3,172.9 563.2,173.3 563.1,174.2 563.1,173.8 563.2,174.3 563.7,176.2 563.7,176.3 563.4,175.7 563.2,175.8 563.1,176.8 563.6,176.8 563.7,178.4 563.4,177.8 563.6,180.3 564.0,180.5 563.5,179.5 564.0,179.8 563.7,181.0 563.5,180.7 563.6,182.6 563.9,183.7 564.0,184.6 563.6,183.4 563.8,183.5 563.7,184.9 563.9,184.9 564.3,186.5 564.5,186.5 564.2,187.2 564.6,187.0 564.5,187.9 564.5,189.1 564.0,189.1 564.2,188.5 564.1,191.1 564.1,189.4 564.5,190.8 564.5,190.4 564.4,191.8 564.5,192.3 564.5,194.2 564.0,192.2 564.3,192.9 564.0,195.0 564.8,193.8 564.3,194.8 564.5,196.8 564.3,196.2 564.7,196.5 564.6,197.6 564.7,197.9 564.8,197.8 564.9,196.7 564.6,195.6 565.0,196.5 565.1,195.7 564.9,193.8 564.9,193.4 564.8,194.6 565.2,194.5 565.5,193.5 565.7,191.6 565.5,192.3 565.3,190.5 565.3,192.0 565.6,191.6 565.7,188.9 565.3,190.4 565.7,189.0 565.5,188.2 565.4,187.6 565.6,187.8 565.3,186.2 565.8,186.7 565.7,186.1 565.6,186.8 565.6,185.1 565.6,184.8 565.7,183.9 565.5,183.1 565.9,183.4 566.3,181.4 565.9,181.5 566.1,182.4 566.5,181.5 566.5,180.6 566.3,179.7 566.3,179.6 566.4,179.8 566.4,180.2 566.4,180.9 566.7,181.7 566.7,181.6 566.5,182.7 566.3,182.9 566.0,182.7 566.4,184.6 566.7,185.2 566.2,184.4 567.1,184.7 566.3,186.3 566.6,187.6 567.1,187.4 566.7,187.5 567.3,187.1 566.8,189.3 567.0,188.1 567.2,190.8 567.1,189.3 567.3,189.7 566.4,191.7 567.2,192.4 567.0,191.0 566.5,193.0 567.3,192.8 567.4,193.3 567.0,194.6 567.3,195.1 566.7,195.7 567.5,196.3 567.3,196.4 566.9,198.0 567.8,196.6 567.5,198.3 567.3,197.7 567.2,197.9 567.6,199.2 567.8,199.2 567.8,200.4 567.5,200.2 567.3,201.2 567.5,201.7 567.3,202.4 567.4,203.4 567.8,202.3 568.0,204.1 567.4,203.8 567.9,205.6 567.7,205.9 568.3,206.8 568.0,206.9 567.5,207.1 568.4,206.7 568.4,207.2 568.4,207.6 568.2,208.9 567.7,208.0 568.0,209.4 568.4,211.2 568.8,209.6 568.5,210.0 567.9,210.5 568.8,212.5 568.5,212.7 568.6,211.9 568.5,214.4 568.2,214.3 568.3,214.5 568.5,214.4 568.7,215.4 568.5,214.8 569.1,213.9 568.8,213.6 568.7,212.9 568.8,213.9 568.6,213.1 569.3,211.8 569.2,211.5 569.6,209.7 569.3,211.2 569.3,211.1 568.6,209.7 569.4,207.8 569.2,209.2 569.4,207.6 569.6,208.4 569.0,206.2 569.7,207.0 569.3,207.1 570.0,205.6 569.3,203.8 569.0,204.1 569.5,202.8 569.3,204.3 569.9,202.5 569.2,203.5 570.1,202.5 569.9,201.8 569.5,201.0 569.2,199.9 569.5,198.8 570.1,199.2 569.7,199.6 570.1,198.8 570.4,197.0 570.0,196.2 570.3,197.4 569.6,196.0 569.7,196.5 570.2,194.8 570.3,195.5 570.4,194.1 570.0,193.7 570.3,193.3 570.2,193.0 570.3,192.8 570.2,192.4 570.7,191.4 570.1,191.4 570.8,189.5 570.7,188.8 570.3,188.8 570.2,189.2 571.1,188.4 571.1,187.2 570.2,186.8 571.0,186.4 570.5,187.3 570.9,185.6 571.2,184.4 570.5,185.2 570.8,184.9 571.2,184.4 570.5,184.0 570.6,181.8 570.7,182.1 571.0,180.9 571.2,181.1 571.6,180.9 571.4,181.2 571.2,180.3 570.7,180.5 571.7,180.0 570.7,177.7 571.0,177.1 571.0,176.4 571.4,177.9 571.1,177.3 571.7,176.1 571.8,174.8 571.5,175.3 570.9,175.7 571.2,174.0 571.8,173.4 571.2,174.1 571.9,172.5 571.4,171.1 571.5,172.3 571.8,170.5 571.7,170.0 571.7,170.0 571.7,170.0 571.5,169.0 572.2,167.8 571.8,168.6 572.2,167.6 572.0,167.1 572.2,167.8 572.2,165.2 571.8,165.5 572.3,165.8 571.9,163.6 571.7,164.7 571.7,162.2 572.2,163.8 572.8,161.8 572.2,160.9 572.0,160.6 572.8,161.5 572.7,161.2 572.2,161.2 572.6,158.8 572.9,158.3 572.1,159.1 572.3,159.3 573.1,157.0 573.3,157.2 572.9,155.9 573.3,156.2 572.7,154.9 572.7,154.5 573.5,154.6 573.2,154.6 572.6,153.7 573.4,151.9 573.5,152.4 572.8,152.8 573.2,151.9 573.5,150.3 573.3,150.4 573.2,150.9 573.3,151.7 573.3,151.9 573.4,153.0 573.5,152.6 573.9,153.3 574.1,152.9 573.2,155.0 574.1,153.7 573.5,156.0 574.0,156.1 574.0,157.4 573.9,156.6 573.5,157.0 574.2,158.9 573.8,157.7 574.5,157.8 573.9,159.2 574.3,158.7 574.3,159.2 573.8,160.8 574.5,160.6 574.4,160.7 573.9,162.0 573.8,163.8 574.4,164.4 574.3,164.1 573.9,165.6 574.3,165.4 574.9,165.3 574.4,166.6 574.8,167.3 574.6,166.7 574.7,167.6 574.7,168.0 574.8,168.9 574.8,168.6 575.0,170.0 575.1,169.1 574.7,171.4 574.7,170.1 574.4,172.0 574.4,171.6 574.9,171.6 574.9,173.6 574.5,173.0 575.2,174.3 575.1,173.9 574.9,176.1 575.1,174.9 575.1,175.0 575.2,177.7 575.3,175.7 575.6,176.7 574.7,177.4 575.3,177.2 575.8,178.8 574.8,180.0 575.9,178.7 575.0,179.5 575.3,180.7 575.0,182.4 575.6,181.6 575.5,182.5 575.5,183.0 575.8,183.1 576.0,184.4 575.9,184.6 576.0,183.7 576.4,185.4 575.7,185.6 576.4,187.2 575.9,186.6 576.9,186.3 576.3,189.1 576.7,188.5 576.5,187.8 577.0,189.0 576.3,191.1 576.4,190.3 577.2,191.0 576.9,192.0 576.9,192.4 577.1,193.4 577.6,192.3 577.6,193.2 577.5,193.8 577.5,192.9 577.4,192.1 577.4,192.1 577.8,192.6 577.9,192.4 578.2,191.8 577.6,189.2 578.0,189.5 578.4,188.1 578.4,188.3 578.2,189.0 578.0,188.6 578.5,186.4 578.5,188.1 578.5,186.6 578.3,184.8 578.3,184.9 578.0,186.0 578.1,183.6 578.8,184.0 578.9,182.6 578.9,182.7 579.0,182.7 578.4,181.5 578.2,181.6 578.2,182.0 578.4,180.0 578.6,179.9 579.3,178.3 578.7,179.1 578.9,179.4 579.0,178.4 579.1,177.2 579.0,176.4 578.8,177.3 579.2,175.4 579.3,175.4 579.2,175.0 579.2,174.9 579.2,174.4 579.7,173.9 579.1,172.0 579.8,172.8 579.5,173.2 579.7,172.9 579.4,171.9 580.4,169.7 579.6,170.0 579.8,169.8 579.6,167.9 579.7,167.6 580.0,168.9 580.3,166.7 580.4,168.4 580.9,165.7 580.7,165.1 580.9,165.2 580.7,166.1 580.6,164.3 580.5,164.4 580.8,163.7 580.9,164.4 580.6,164.4 580.7,164.5 580.6,165.0 581.4,167.2 581.2,166.2 580.9,168.2 580.7,166.6 581.7,167.6 581.7,168.1 580.8,168.7 581.7,170.6 581.5,170.2 581.3,170.2 581.9,170.9 581.1,171.9 581.4,171.7 582.1,173.1 581.6,174.3 581.3,172.8 582.2,173.1 582.0,174.1 581.4,176.3 582.0,175.2 581.6,176.6 582.1,176.3 581.7,176.9 582.0,177.6 582.0,176.9 582.2,176.6 581.9,176.2 581.8,175.9 582.5,174.6 581.8,174.7 581.9,173.2 582.2,172.8 582.4,173.1 581.9,173.6 582.3,172.8 582.5,170.9 581.9,170.5 582.3,171.2 581.9,169.4 581.8,170.3 582.8,169.3 582.4,168.3 582.2,167.7 581.8,166.8 582.4,166.6 582.5,165.6 582.3,167.2 582.1,166.8 581.9,166.3 583.0,165.6 583.0,165.3 582.5,164.3 582.2,163.8 582.2,163.4 582.9,162.5 582.9,161.0 583.0,162.1 582.8,161.0 582.4,159.7 582.9,159.7 582.7,158.0 582.2,158.4 583.1,159.3 582.3,158.7 582.5,158.2 582.7,157.3 582.9,156.3 582.3,154.5 583.3,153.7 583.0,155.6 583.0,154.1 583.1,154.0 582.7,152.2 582.8,152.6 582.8,151.7 582.9,151.2 583.1,151.4 583.0,150.4 583.0,151.2 582.9,151.9 583.2,151.4 582.8,152.3 582.9,152.1 582.9,153.9 583.1,154.1 583.1,153.7 583.5,155.8 583.1,156.4 583.3,155.7 582.8,157.5 582.7,156.7 583.0,158.0 583.1,156.7 583.1,157.1 583.3,160.0 583.4,160.6 583.3,160.0 583.3,159.1 583.1,160.8 583.3,162.4 583.5,161.4 583.8,162.7 582.9,162.9 583.1,163.1 583.5,164.8 583.6,165.6 583.5,163.8 583.5,166.4 583.2,167.1 582.9,166.7 583.1,167.1 583.2,167.4 583.1,169.0 583.9,168.4 583.1,169.0 583.2,170.5 583.9,168.9 583.1,170.7 583.3,169.9 583.2,170.1 584.0,170.9 583.1,171.8 583.1,173.6 583.9,173.4 584.1,175.0 583.7,173.4 583.9,173.5 584.2,176.1 583.9,174.9 584.0,177.1 584.2,176.7 583.6,178.3 583.6,178.3 584.0,177.6 583.8,179.6 584.3,178.7 583.6,179.7 583.4,179.0 584.0,181.5 583.7,180.4 583.7,180.8 584.0,181.2 583.6,181.7 583.9,184.4 584.1,182.8 583.5,184.8 583.4,185.1 583.4,184.3 584.3,185.6 583.7,185.1 584.2,187.0 584.2,186.3 583.8,187.3 583.5,188.1 584.0,188.8 584.2,189.2 584.0,189.1 584.0,189.7 584.0,191.1 584.1,190.8 584.3,191.1 584.4,193.0 583.9,192.3 584.2,192.6 584.1,193.8 584.3,193.9 584.3,194.3 584.2,195.2 584.1,195.8 584.2,196.3 584.1,196.0 584.3,194.6 584.2,194.5 584.4,194.9 584.5,194.6 584.7,193.4 583.9,193.3 584.8,193.4 584.3,190.9 584.4,190.4 584.2,190.0 584.8,191.6 584.9,190.1 584.9,190.4 584.5,188.5 584.3,187.6 584.9,187.4 584.5,188.3 584.7,185.7 584.8,185.3 584.7,185.2 585.0,185.6 584.7,185.6 585.2,184.2 585.0,183.0 585.3,182.3 585.0,182.6 584.4,181.4 584.7,181.0 584.9,182.7 585.2,181.9 584.9,179.6 584.4,180.1 584.9,179.9 584.8,178.4 585.2,179.5 585.0,178.7 584.5,177.5 585.5,175.7 585.4,176.3 584.7,176.3 585.6,175.2 584.8,175.0 584.8,175.4 585.3,173.9 585.0,173.3 585.0,172.5 585.3,172.3 585.3,172.0 585.3,171.7 585.1,171.7 585.5,170.6 585.0,171.0 585.4,168.9 585.8,168.9 585.3,167.4 586.0,168.8 586.2,168.0 585.6,168.1 585.3,166.4 586.2,166.1 586.2,166.2 585.6,166.2 585.4,165.2 585.4,163.0 585.5,162.7 586.1,162.8 586.2,163.6 585.9,160.8 586.6,162.8 586.7,162.1 586.3,159.4 586.8,161.2 586.2,158.6 585.9,158.7 586.1,158.1 586.3,158.8 586.4,156.7 586.6,157.0 586.2,156.4 586.5,155.6 586.9,156.1 586.7,155.0 586.7,155.0 586.7,154.5 586.8,153.2 586.7,153.8 587.2,153.4 587.3,151.4 586.5,152.0 587.1,150.6 586.7,151.1 587.4,149.1 586.9,149.0 586.9,149.7 586.6,148.1 587.5,146.9 587.1,148.8 587.8,147.6 587.6,146.9 587.2,144.8 587.3,144.2 586.9,145.1 587.9,144.3 587.5,143.0 587.6,144.7 588.1,141.8 587.3,142.5 587.6,143.2 587.9,141.8 587.3,141.5 587.7,141.1 587.2,139.7 587.6,139.3 587.8,139.9 587.9,137.8 587.9,138.3 587.4,137.8 588.0,137.5 588.2,137.3 587.6,135.6 587.8,135.9 588.5,134.8 588.4,133.5 588.0,134.2 588.5,134.0 588.5,133.8 588.2,133.1 588.3,132.1 588.2,132.7 588.2,132.2 588.3,134.1 588.8,133.1 588.5,135.8 588.8,135.9 589.4,134.4 588.4,136.9 589.3,135.9 589.4,137.5 588.9,137.9 589.5,137.9 589.3,137.6 588.9,137.7 589.7,140.7 589.8,140.8 589.5,139.5 589.9,140.9 589.7,141.3 589.8,141.1 589.6,140.9 589.8,140.0 589.7,139.4 590.2,138.1 589.6,138.7 590.0,137.8 590.1,137.4 589.6,136.3 589.7,135.9 589.5,136.9 589.8,134.4 589.5,134.7 589.5,134.1 589.6,133.7 589.6,132.6 590.5,131.5 590.1,133.1 590.4,130.8 589.9,131.4 590.4,131.9 590.2,129.3 589.6,130.0 590.6,128.6 590.4,129.4 589.7,127.4 590.2,127.0 589.8,127.7 589.9,127.1 590.8,125.0 590.0,124.6 590.3,126.0 590.6,124.2 590.2,124.4 590.4,122.6 590.9,124.1 590.7,121.6 590.5,121.2 591.0,120.8 590.1,121.3 590.5,120.6 590.8,120.4 590.5,120.8 590.3,119.3 590.1,119.5 590.3,118.4 590.8,116.6 590.3,117.2 590.8,116.0 590.6,117.1 590.8,115.1 590.8,114.8 590.5,114.0 590.9,114.7 590.8,113.7 590.7,114.5 591.0,114.2 591.2,115.9 590.5,115.2 591.1,115.9 590.5,115.5 591.3,118.4 590.9,118.3 591.1,119.5 590.7,118.6 591.1,120.4 591.5,120.4 591.0,119.7 591.6,121.3 591.6,120.5 591.0,121.5 591.0,123.2 591.1,123.3 591.1,124.2 591.5,123.1 591.7,125.1 591.5,125.1 591.1,124.1 590.8,125.2 591.3,127.1 591.1,127.1 591.3,128.2 591.7,126.2 591.5,127.5 591.8,127.4 591.2,127.8 591.4,128.3 590.9,130.3 591.0,129.2 591.8,132.0 591.4,132.5 591.5,133.0 591.1,131.5 591.6,132.6 591.5,133.9 591.5,133.7 591.7,134.4 591.5,135.0"/>
<g text-anchor="middle" style="will-change:transform">
<text x="103" y="446.8" textLength="45" lengthAdjust="spacing">2005</text>
<text x="221.7" y="446.8" textLength="45" lengthAdjust="spacing">2010</text>
<text x="340.3" y="446.8" textLength="45" lengthAdjust="spacing">2015</text>
<text x="459" y="446.8" textLength="45" lengthAdjust="spacing">2020</text>
</g>
</svg>
</body></html>
